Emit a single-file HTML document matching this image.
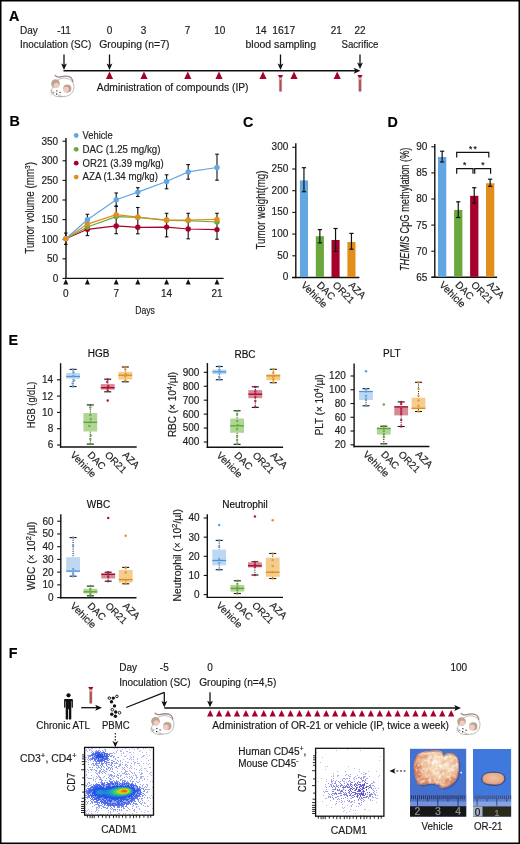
<!DOCTYPE html>
<html><head><meta charset="utf-8"><style>
html,body{margin:0;padding:0;background:#fff;}
svg{display:block;font-family:"Liberation Sans", sans-serif;will-change:transform;}
</style></head><body>
<svg width="520" height="844" viewBox="0 0 520 844">
<defs><symbol id="mouse" viewBox="0 0 24 24" overflow="visible">
<path d="M3.5,9 C5,4.6 9,3.0 13,2.9 C18.5,3.1 22.5,7 22.5,11.5 C22.5,17 18.5,21 13.5,21.3 L6.5,21.6 C3,21.4 0.4,19 0.1,16.3 C-0.1,13.5 1.5,11 3.5,9 Z" fill="#fff" stroke="#8f8f8f" stroke-width="0.6"/>
<path d="M3.7,0.5 C5,1.8 6.5,2.1 8,1.9 C10,1.5 12,1.0 13.8,1.05 C15.8,1.1 17,1.2 17.9,1.6 C19.2,2.2 20.2,3.4 20.6,4.3 C21,5.1 21.2,5.8 21.3,6.5" fill="none" stroke="#9e8882" stroke-width="1.35" stroke-linecap="round"/>
<path d="M17.9,1.8 C19.2,2.4 20.1,3.5 20.5,4.4" fill="none" stroke="#d2a8a0" stroke-width="0.5" stroke-dasharray="0.6,0.5"/>
<circle cx="4" cy="8.55" r="4.3" fill="#bba58d"/>
<circle cx="4.8" cy="10.3" r="2.7" fill="#efcbc1"/>
<circle cx="15.8" cy="13.5" r="4.1" fill="#bba58d"/>
<circle cx="14.5" cy="14.5" r="2.8" fill="#efcbc1"/>
<circle cx="5.4" cy="15.8" r="0.7" fill="#333"/>
<circle cx="8.6" cy="17.3" r="0.7" fill="#333"/>
<circle cx="5.2" cy="18.8" r="0.75" fill="#222"/>
<circle cx="2.4" cy="17.4" r="0.5" fill="#555"/>
<path d="M-1.5,15.2 L2.5,17 M-1.6,17.3 L2.5,17.7 M-1,19.4 L2.6,18.3 M7,19.6 L11.3,21.8 M8,19.4 L10.2,22.2 M6.5,19.8 L8.6,22.3" stroke="#8c8c8c" stroke-width="0.35" fill="none"/>
</symbol></defs>
<rect width="520" height="844" fill="#fff"/>
<rect x="0" y="0" width="520" height="844" fill="none" stroke="#000" stroke-width="3"/>
<text x="9" y="20.8" font-size="14.3" font-weight="bold" fill="#000" stroke="#000" stroke-width="0.17">A</text>
<text x="20" y="33.6" font-size="10" fill="#1a1a1a" stroke="#1a1a1a" stroke-width="0.17">Day</text>
<text x="64" y="33.6" font-size="10" text-anchor="middle" fill="#1a1a1a" stroke="#1a1a1a" stroke-width="0.17">-11</text>
<text x="109.5" y="33.6" font-size="10" text-anchor="middle" fill="#1a1a1a" stroke="#1a1a1a" stroke-width="0.17">0</text>
<text x="143.5" y="33.6" font-size="10" text-anchor="middle" fill="#1a1a1a" stroke="#1a1a1a" stroke-width="0.17">3</text>
<text x="187.5" y="33.6" font-size="10" text-anchor="middle" fill="#1a1a1a" stroke="#1a1a1a" stroke-width="0.17">7</text>
<text x="219.8" y="33.6" font-size="10" text-anchor="middle" fill="#1a1a1a" stroke="#1a1a1a" stroke-width="0.17">10</text>
<text x="261" y="33.6" font-size="10" text-anchor="middle" fill="#1a1a1a" stroke="#1a1a1a" stroke-width="0.17">14</text>
<text x="336.3" y="33.6" font-size="10" text-anchor="middle" fill="#1a1a1a" stroke="#1a1a1a" stroke-width="0.17">21</text>
<text x="360" y="33.6" font-size="10" text-anchor="middle" fill="#1a1a1a" stroke="#1a1a1a" stroke-width="0.17">22</text>
<text x="272.3" y="33.6" font-size="10" textLength="23" lengthAdjust="spacingAndGlyphs" fill="#1a1a1a" stroke="#1a1a1a" stroke-width="0.17">1617</text>
<text x="20" y="48.4" font-size="10" textLength="71.2" lengthAdjust="spacingAndGlyphs" fill="#1a1a1a" stroke="#1a1a1a" stroke-width="0.17">Inoculation (SC)</text>
<text x="99.2" y="48.4" font-size="10" textLength="70.2" lengthAdjust="spacingAndGlyphs" fill="#1a1a1a" stroke="#1a1a1a" stroke-width="0.17">Grouping (n=7)</text>
<text x="245.5" y="48.4" font-size="10" textLength="70.5" lengthAdjust="spacingAndGlyphs" fill="#1a1a1a" stroke="#1a1a1a" stroke-width="0.17">blood sampling</text>
<text x="341.5" y="48.4" font-size="10" textLength="37" lengthAdjust="spacingAndGlyphs" fill="#1a1a1a" stroke="#1a1a1a" stroke-width="0.17">Sacrifice</text>
<line x1="64" y1="54.5" x2="64" y2="67" stroke="#111" stroke-width="1.3"/>
<path d="M61.1,63.4 L64,70 L66.9,63.4 L64,64.9 Z" fill="#111"/>
<line x1="109.5" y1="54.5" x2="109.5" y2="67" stroke="#111" stroke-width="1.3"/>
<path d="M106.6,63.4 L109.5,70 L112.4,63.4 L109.5,64.9 Z" fill="#111"/>
<line x1="280.5" y1="54.5" x2="280.5" y2="67" stroke="#111" stroke-width="1.3"/>
<path d="M277.6,63.4 L280.5,70 L283.4,63.4 L280.5,64.9 Z" fill="#111"/>
<line x1="360" y1="54.5" x2="360" y2="66" stroke="#111" stroke-width="1.3"/>
<path d="M357.1,62.4 L360,69 L362.9,62.4 L360,63.9 Z" fill="#111"/>
<line x1="63.5" y1="70.7" x2="357.5" y2="70.7" stroke="#111" stroke-width="1.5"/>
<path d="M353.7,67.7 L360.5,70.7 L353.7,73.7 L355.2,70.7 Z" fill="#111"/>
<path d="M105.9,79.1 L109.5,71.6 L113.1,79.1 Z" fill="#a8002c"/>
<path d="M140.4,79.1 L144,71.6 L147.6,79.1 Z" fill="#a8002c"/>
<path d="M184.20000000000002,79.1 L187.8,71.6 L191.4,79.1 Z" fill="#a8002c"/>
<path d="M215.4,79.1 L219,71.6 L222.6,79.1 Z" fill="#a8002c"/>
<path d="M259.4,79.1 L263,71.6 L266.6,79.1 Z" fill="#a8002c"/>
<path d="M290.4,79.1 L294,71.6 L297.6,79.1 Z" fill="#a8002c"/>
<path d="M333.59999999999997,79.1 L337.2,71.6 L340.8,79.1 Z" fill="#a8002c"/>
<g transform="translate(280.5,75)"><rect x="-1.25" y="2.0" width="2.5" height="14.6" rx="0.6" fill="#b84a4c" stroke="#a9b0b0" stroke-width="0.45"/><rect x="-0.8" y="3.2" width="1.6" height="1.3" fill="#f6efef"/><path d="M-2.3,0 L2.3,0 L2.3,1.1 L1.1,2.2 L-1.1,2.2 L-2.3,1.1 Z" fill="#b0002a"/></g>
<g transform="translate(360,75)"><rect x="-1.25" y="2.0" width="2.5" height="14.6" rx="0.6" fill="#b84a4c" stroke="#a9b0b0" stroke-width="0.45"/><rect x="-0.8" y="3.2" width="1.6" height="1.3" fill="#f6efef"/><path d="M-2.3,0 L2.3,0 L2.3,1.1 L1.1,2.2 L-1.1,2.2 L-2.3,1.1 Z" fill="#b0002a"/></g>
<use href="#mouse" x="51.5" y="75.1" width="24.0" height="24.0"/>
<text x="96.8" y="91.4" font-size="10" textLength="151.7" lengthAdjust="spacingAndGlyphs" fill="#1a1a1a" stroke="#1a1a1a" stroke-width="0.17">Administration of compounds (IP)</text>
<text x="9.5" y="126.2" font-size="14.3" font-weight="bold" fill="#000" stroke="#000" stroke-width="0.17">B</text>
<line x1="66" y1="138" x2="66" y2="279.09999999999997" stroke="#111" stroke-width="1.4"/>
<line x1="65.3" y1="278.4" x2="223.6" y2="278.4" stroke="#111" stroke-width="1.4"/>
<line x1="62.5" y1="278.4" x2="66" y2="278.4" stroke="#111" stroke-width="1.1"/>
<text x="58.2" y="281.79999999999995" font-size="10" text-anchor="end" fill="#222" stroke="#222" stroke-width="0.17">0</text>
<line x1="62.5" y1="258.79999999999995" x2="66" y2="258.79999999999995" stroke="#111" stroke-width="1.1"/>
<text x="58.2" y="262.19999999999993" font-size="10" text-anchor="end" fill="#222" stroke="#222" stroke-width="0.17">50</text>
<line x1="62.5" y1="239.2" x2="66" y2="239.2" stroke="#111" stroke-width="1.1"/>
<text x="58.2" y="242.6" font-size="10" text-anchor="end" fill="#222" stroke="#222" stroke-width="0.17">100</text>
<line x1="62.5" y1="219.59999999999997" x2="66" y2="219.59999999999997" stroke="#111" stroke-width="1.1"/>
<text x="58.2" y="222.99999999999997" font-size="10" text-anchor="end" fill="#222" stroke="#222" stroke-width="0.17">150</text>
<line x1="62.5" y1="199.99999999999997" x2="66" y2="199.99999999999997" stroke="#111" stroke-width="1.1"/>
<text x="58.2" y="203.39999999999998" font-size="10" text-anchor="end" fill="#222" stroke="#222" stroke-width="0.17">200</text>
<line x1="62.5" y1="180.39999999999998" x2="66" y2="180.39999999999998" stroke="#111" stroke-width="1.1"/>
<text x="58.2" y="183.79999999999998" font-size="10" text-anchor="end" fill="#222" stroke="#222" stroke-width="0.17">250</text>
<line x1="62.5" y1="160.79999999999995" x2="66" y2="160.79999999999995" stroke="#111" stroke-width="1.1"/>
<text x="58.2" y="164.19999999999996" font-size="10" text-anchor="end" fill="#222" stroke="#222" stroke-width="0.17">300</text>
<line x1="62.5" y1="141.19999999999996" x2="66" y2="141.19999999999996" stroke="#111" stroke-width="1.1"/>
<text x="58.2" y="144.59999999999997" font-size="10" text-anchor="end" fill="#222" stroke="#222" stroke-width="0.17">350</text>
<path d="M63.3,284.4 L65.8,279.0 L68.3,284.4 Z" fill="#111"/>
<path d="M84.9,284.4 L87.4,279.0 L89.9,284.4 Z" fill="#111"/>
<path d="M113.69999999999999,284.4 L116.19999999999999,279.0 L118.69999999999999,284.4 Z" fill="#111"/>
<path d="M135.3,284.4 L137.8,279.0 L140.3,284.4 Z" fill="#111"/>
<path d="M164.1,284.4 L166.6,279.0 L169.1,284.4 Z" fill="#111"/>
<path d="M185.7,284.4 L188.2,279.0 L190.7,284.4 Z" fill="#111"/>
<path d="M214.5,284.4 L217.0,279.0 L219.5,284.4 Z" fill="#111"/>
<text x="65.8" y="297.2" font-size="10" text-anchor="middle" fill="#222" stroke="#222" stroke-width="0.17">0</text>
<text x="116.19999999999999" y="297.2" font-size="10" text-anchor="middle" fill="#222" stroke="#222" stroke-width="0.17">7</text>
<text x="166.6" y="297.2" font-size="10" text-anchor="middle" fill="#222" stroke="#222" stroke-width="0.17">14</text>
<text x="217.0" y="297.2" font-size="10" text-anchor="middle" fill="#222" stroke="#222" stroke-width="0.17">21</text>
<text x="145" y="313.8" font-size="11.7" text-anchor="middle" textLength="19.6" lengthAdjust="spacingAndGlyphs" fill="#222" stroke="#222" stroke-width="0.17">Days</text>
<text transform="translate(34.3,207.9) rotate(-90)" font-size="12.3" text-anchor="middle" textLength="91.7" lengthAdjust="spacingAndGlyphs" fill="#222" stroke="#222" stroke-width="0.17">Tumor volume (mm<tspan font-size="8" dy="-4.5">3</tspan><tspan dy="4.5">)</tspan></text>
<circle cx="76.2" cy="135.5" r="2.4" fill="#62a6e2"/>
<text x="82.6" y="138.9" font-size="10" textLength="30" lengthAdjust="spacingAndGlyphs" fill="#222" stroke="#222" stroke-width="0.17">Vehicle</text>
<circle cx="76.2" cy="149.35" r="2.4" fill="#6aa83e"/>
<text x="82.6" y="152.75" font-size="10" textLength="77.8" lengthAdjust="spacingAndGlyphs" fill="#222" stroke="#222" stroke-width="0.17">DAC (1.25 mg/kg)</text>
<circle cx="76.2" cy="163.2" r="2.4" fill="#a8002c"/>
<text x="82.6" y="166.6" font-size="10" textLength="81.2" lengthAdjust="spacingAndGlyphs" fill="#222" stroke="#222" stroke-width="0.17">OR21 (3.39 mg/kg)</text>
<circle cx="76.2" cy="177.05" r="2.4" fill="#e18e1a"/>
<text x="82.6" y="180.45000000000002" font-size="10" textLength="75.4" lengthAdjust="spacingAndGlyphs" fill="#222" stroke="#222" stroke-width="0.17">AZA (1.34 mg/kg)</text>
<line x1="65.8" y1="233.1" x2="65.8" y2="244.4" stroke="#111" stroke-width="1.1"/>
<line x1="64.0" y1="233.1" x2="67.6" y2="233.1" stroke="#111" stroke-width="1.1"/>
<line x1="64.0" y1="244.4" x2="67.6" y2="244.4" stroke="#111" stroke-width="1.1"/>
<line x1="87.4" y1="214.3" x2="87.4" y2="224.5" stroke="#111" stroke-width="1.1"/>
<line x1="85.60000000000001" y1="214.3" x2="89.2" y2="214.3" stroke="#111" stroke-width="1.1"/>
<line x1="85.60000000000001" y1="224.5" x2="89.2" y2="224.5" stroke="#111" stroke-width="1.1"/>
<line x1="87.4" y1="219.5" x2="87.4" y2="235.6" stroke="#111" stroke-width="1.1"/>
<line x1="85.60000000000001" y1="219.5" x2="89.2" y2="219.5" stroke="#111" stroke-width="1.1"/>
<line x1="85.60000000000001" y1="235.6" x2="89.2" y2="235.6" stroke="#111" stroke-width="1.1"/>
<line x1="116.19999999999999" y1="193" x2="116.19999999999999" y2="206" stroke="#111" stroke-width="1.1"/>
<line x1="114.39999999999999" y1="193" x2="117.99999999999999" y2="193" stroke="#111" stroke-width="1.1"/>
<line x1="114.39999999999999" y1="206" x2="117.99999999999999" y2="206" stroke="#111" stroke-width="1.1"/>
<line x1="116.19999999999999" y1="206.5" x2="116.19999999999999" y2="233.7" stroke="#111" stroke-width="1.1"/>
<line x1="114.39999999999999" y1="206.5" x2="117.99999999999999" y2="206.5" stroke="#111" stroke-width="1.1"/>
<line x1="114.39999999999999" y1="233.7" x2="117.99999999999999" y2="233.7" stroke="#111" stroke-width="1.1"/>
<line x1="137.8" y1="187.7" x2="137.8" y2="196.5" stroke="#111" stroke-width="1.1"/>
<line x1="136.0" y1="187.7" x2="139.60000000000002" y2="187.7" stroke="#111" stroke-width="1.1"/>
<line x1="136.0" y1="196.5" x2="139.60000000000002" y2="196.5" stroke="#111" stroke-width="1.1"/>
<line x1="137.8" y1="207.5" x2="137.8" y2="233.8" stroke="#111" stroke-width="1.1"/>
<line x1="136.0" y1="207.5" x2="139.60000000000002" y2="207.5" stroke="#111" stroke-width="1.1"/>
<line x1="136.0" y1="233.8" x2="139.60000000000002" y2="233.8" stroke="#111" stroke-width="1.1"/>
<line x1="166.6" y1="174.8" x2="166.6" y2="188.8" stroke="#111" stroke-width="1.1"/>
<line x1="164.79999999999998" y1="174.8" x2="168.4" y2="174.8" stroke="#111" stroke-width="1.1"/>
<line x1="164.79999999999998" y1="188.8" x2="168.4" y2="188.8" stroke="#111" stroke-width="1.1"/>
<line x1="166.6" y1="213.3" x2="166.6" y2="236.9" stroke="#111" stroke-width="1.1"/>
<line x1="164.79999999999998" y1="213.3" x2="168.4" y2="213.3" stroke="#111" stroke-width="1.1"/>
<line x1="164.79999999999998" y1="236.9" x2="168.4" y2="236.9" stroke="#111" stroke-width="1.1"/>
<line x1="188.2" y1="164.6" x2="188.2" y2="179.2" stroke="#111" stroke-width="1.1"/>
<line x1="186.39999999999998" y1="164.6" x2="190.0" y2="164.6" stroke="#111" stroke-width="1.1"/>
<line x1="186.39999999999998" y1="179.2" x2="190.0" y2="179.2" stroke="#111" stroke-width="1.1"/>
<line x1="188.2" y1="213.3" x2="188.2" y2="238.8" stroke="#111" stroke-width="1.1"/>
<line x1="186.39999999999998" y1="213.3" x2="190.0" y2="213.3" stroke="#111" stroke-width="1.1"/>
<line x1="186.39999999999998" y1="238.8" x2="190.0" y2="238.8" stroke="#111" stroke-width="1.1"/>
<line x1="217.0" y1="154.2" x2="217.0" y2="180.2" stroke="#111" stroke-width="1.1"/>
<line x1="215.2" y1="154.2" x2="218.8" y2="154.2" stroke="#111" stroke-width="1.1"/>
<line x1="215.2" y1="180.2" x2="218.8" y2="180.2" stroke="#111" stroke-width="1.1"/>
<line x1="217.0" y1="213.3" x2="217.0" y2="239.2" stroke="#111" stroke-width="1.1"/>
<line x1="215.2" y1="213.3" x2="218.8" y2="213.3" stroke="#111" stroke-width="1.1"/>
<line x1="215.2" y1="239.2" x2="218.8" y2="239.2" stroke="#111" stroke-width="1.1"/>
<polyline points="65.8,238.8 87.4,229.3 116.19999999999999,225.9 137.8,227.3 166.6,227.1 188.2,229.0 217.0,229.6" fill="none" stroke="#a8002c" stroke-width="1.2"/>
<polyline points="65.8,238.8 87.4,227.0 116.19999999999999,216.6 137.8,217.4 166.6,220.3 188.2,220.6 217.0,222.0" fill="none" stroke="#6aa83e" stroke-width="1.2"/>
<polyline points="65.8,238.8 87.4,224.1 116.19999999999999,214.7 137.8,217.1 166.6,220.0 188.2,220.0 217.0,219.4" fill="none" stroke="#e18e1a" stroke-width="1.2"/>
<polyline points="65.8,238.8 87.4,219.8 116.19999999999999,199.8 137.8,192.1 166.6,181.5 188.2,171.9 217.0,167.5" fill="none" stroke="#62a6e2" stroke-width="1.2"/>
<circle cx="87.4" cy="229.3" r="2.7" fill="#a8002c"/>
<circle cx="116.19999999999999" cy="225.9" r="2.7" fill="#a8002c"/>
<circle cx="137.8" cy="227.3" r="2.7" fill="#a8002c"/>
<circle cx="166.6" cy="227.1" r="2.7" fill="#a8002c"/>
<circle cx="188.2" cy="229.0" r="2.7" fill="#a8002c"/>
<circle cx="217.0" cy="229.6" r="2.7" fill="#a8002c"/>
<circle cx="87.4" cy="227.0" r="2.7" fill="#6aa83e"/>
<circle cx="116.19999999999999" cy="216.6" r="2.7" fill="#6aa83e"/>
<circle cx="137.8" cy="217.4" r="2.7" fill="#6aa83e"/>
<circle cx="166.6" cy="220.3" r="2.7" fill="#6aa83e"/>
<circle cx="188.2" cy="220.6" r="2.7" fill="#6aa83e"/>
<circle cx="217.0" cy="222.0" r="2.7" fill="#6aa83e"/>
<circle cx="87.4" cy="224.1" r="2.7" fill="#e18e1a"/>
<circle cx="116.19999999999999" cy="214.7" r="2.7" fill="#e18e1a"/>
<circle cx="137.8" cy="217.1" r="2.7" fill="#e18e1a"/>
<circle cx="166.6" cy="220.0" r="2.7" fill="#e18e1a"/>
<circle cx="188.2" cy="220.0" r="2.7" fill="#e18e1a"/>
<circle cx="217.0" cy="219.4" r="2.7" fill="#e18e1a"/>
<circle cx="65.8" cy="238.8" r="2.7" fill="#62a6e2"/>
<circle cx="87.4" cy="219.8" r="2.7" fill="#62a6e2"/>
<circle cx="116.19999999999999" cy="199.8" r="2.7" fill="#62a6e2"/>
<circle cx="137.8" cy="192.1" r="2.7" fill="#62a6e2"/>
<circle cx="166.6" cy="181.5" r="2.7" fill="#62a6e2"/>
<circle cx="188.2" cy="171.9" r="2.7" fill="#62a6e2"/>
<circle cx="217.0" cy="167.5" r="2.7" fill="#62a6e2"/>
<circle cx="65.8" cy="238.8" r="2.7" fill="#e18e1a"/>
<text x="243" y="126.6" font-size="14.3" font-weight="bold" fill="#000" stroke="#000" stroke-width="0.17">C</text>
<line x1="295.8" y1="143.2" x2="295.8" y2="278.2" stroke="#111" stroke-width="1.4"/>
<line x1="292" y1="277.5" x2="359.4" y2="277.5" stroke="#111" stroke-width="1.4"/>
<line x1="292.3" y1="277.5" x2="295.8" y2="277.5" stroke="#111" stroke-width="1.1"/>
<text x="288.3" y="280.3" font-size="10" text-anchor="end" fill="#222" stroke="#222" stroke-width="0.17">0</text>
<line x1="292.3" y1="255.8" x2="295.8" y2="255.8" stroke="#111" stroke-width="1.1"/>
<text x="288.3" y="258.6" font-size="10" text-anchor="end" fill="#222" stroke="#222" stroke-width="0.17">50</text>
<line x1="292.3" y1="234.1" x2="295.8" y2="234.1" stroke="#111" stroke-width="1.1"/>
<text x="288.3" y="236.9" font-size="10" text-anchor="end" fill="#222" stroke="#222" stroke-width="0.17">100</text>
<line x1="292.3" y1="212.4" x2="295.8" y2="212.4" stroke="#111" stroke-width="1.1"/>
<text x="288.3" y="215.20000000000002" font-size="10" text-anchor="end" fill="#222" stroke="#222" stroke-width="0.17">150</text>
<line x1="292.3" y1="190.7" x2="295.8" y2="190.7" stroke="#111" stroke-width="1.1"/>
<text x="288.3" y="193.5" font-size="10" text-anchor="end" fill="#222" stroke="#222" stroke-width="0.17">200</text>
<line x1="292.3" y1="169.0" x2="295.8" y2="169.0" stroke="#111" stroke-width="1.1"/>
<text x="288.3" y="171.8" font-size="10" text-anchor="end" fill="#222" stroke="#222" stroke-width="0.17">250</text>
<line x1="292.3" y1="147.3" x2="295.8" y2="147.3" stroke="#111" stroke-width="1.1"/>
<text x="288.3" y="150.10000000000002" font-size="10" text-anchor="end" fill="#222" stroke="#222" stroke-width="0.17">300</text>
<rect x="299.9" y="180.4" width="8.1" height="96.6" fill="#62a6e2"/>
<line x1="303.95" y1="167.7" x2="303.95" y2="191.7" stroke="#111" stroke-width="1.2"/>
<line x1="301.84999999999997" y1="167.7" x2="306.05" y2="167.7" stroke="#111" stroke-width="1.2"/>
<line x1="301.84999999999997" y1="191.7" x2="306.05" y2="191.7" stroke="#111" stroke-width="1.2"/>
<rect x="315.8" y="236.2" width="8.1" height="40.80000000000001" fill="#6aa83e"/>
<line x1="319.85" y1="229.6" x2="319.85" y2="242.9" stroke="#111" stroke-width="1.2"/>
<line x1="317.75" y1="229.6" x2="321.95000000000005" y2="229.6" stroke="#111" stroke-width="1.2"/>
<line x1="317.75" y1="242.9" x2="321.95000000000005" y2="242.9" stroke="#111" stroke-width="1.2"/>
<rect x="331.5" y="240" width="8.1" height="37.0" fill="#a8002c"/>
<line x1="335.55" y1="228.5" x2="335.55" y2="251.5" stroke="#111" stroke-width="1.2"/>
<line x1="333.45" y1="228.5" x2="337.65000000000003" y2="228.5" stroke="#111" stroke-width="1.2"/>
<line x1="333.45" y1="251.5" x2="337.65000000000003" y2="251.5" stroke="#111" stroke-width="1.2"/>
<rect x="347.4" y="242" width="8.1" height="35.0" fill="#e18e1a"/>
<line x1="351.45" y1="233.4" x2="351.45" y2="249.2" stroke="#111" stroke-width="1.2"/>
<line x1="349.34999999999997" y1="233.4" x2="353.55" y2="233.4" stroke="#111" stroke-width="1.2"/>
<line x1="349.34999999999997" y1="249.2" x2="353.55" y2="249.2" stroke="#111" stroke-width="1.2"/>
<text transform="translate(264.9,210) rotate(-90)" font-size="12.3" text-anchor="middle" textLength="79" lengthAdjust="spacingAndGlyphs" fill="#222" stroke="#222" stroke-width="0.17">Tumor weight(mg)</text>
<text transform="translate(300.4,285.7) rotate(45)" font-size="10" fill="#222" stroke="#222" stroke-width="0.17">Vehicle</text>
<text transform="translate(316.2,285.7) rotate(45)" font-size="10" fill="#222" stroke="#222" stroke-width="0.17">DAC</text>
<text transform="translate(332.0,285.7) rotate(45)" font-size="10" fill="#222" stroke="#222" stroke-width="0.17">OR21</text>
<text transform="translate(347.9,285.7) rotate(45)" font-size="10" fill="#222" stroke="#222" stroke-width="0.17">AZA</text>
<text x="387.5" y="126.5" font-size="14.3" font-weight="bold" fill="#000" stroke="#000" stroke-width="0.17">D</text>
<line x1="434.8" y1="144" x2="434.8" y2="278.0" stroke="#111" stroke-width="1.4"/>
<line x1="431.5" y1="277.3" x2="497.1" y2="277.3" stroke="#111" stroke-width="1.4"/>
<line x1="431.3" y1="277.3" x2="434.8" y2="277.3" stroke="#111" stroke-width="1.1"/>
<text x="427.3" y="280.7" font-size="10" text-anchor="end" fill="#222" stroke="#222" stroke-width="0.17">65</text>
<line x1="431.3" y1="251.20000000000002" x2="434.8" y2="251.20000000000002" stroke="#111" stroke-width="1.1"/>
<text x="427.3" y="254.60000000000002" font-size="10" text-anchor="end" fill="#222" stroke="#222" stroke-width="0.17">70</text>
<line x1="431.3" y1="225.10000000000002" x2="434.8" y2="225.10000000000002" stroke="#111" stroke-width="1.1"/>
<text x="427.3" y="228.50000000000003" font-size="10" text-anchor="end" fill="#222" stroke="#222" stroke-width="0.17">75</text>
<line x1="431.3" y1="199.0" x2="434.8" y2="199.0" stroke="#111" stroke-width="1.1"/>
<text x="427.3" y="202.4" font-size="10" text-anchor="end" fill="#222" stroke="#222" stroke-width="0.17">80</text>
<line x1="431.3" y1="172.90000000000003" x2="434.8" y2="172.90000000000003" stroke="#111" stroke-width="1.1"/>
<text x="427.3" y="176.30000000000004" font-size="10" text-anchor="end" fill="#222" stroke="#222" stroke-width="0.17">85</text>
<line x1="431.3" y1="146.8" x2="434.8" y2="146.8" stroke="#111" stroke-width="1.1"/>
<text x="427.3" y="150.20000000000002" font-size="10" text-anchor="end" fill="#222" stroke="#222" stroke-width="0.17">90</text>
<rect x="438" y="157" width="8.3" height="119.80000000000001" fill="#62a6e2"/>
<line x1="442.15" y1="151.2" x2="442.15" y2="162" stroke="#111" stroke-width="1.2"/>
<line x1="440.04999999999995" y1="151.2" x2="444.25" y2="151.2" stroke="#111" stroke-width="1.2"/>
<line x1="440.04999999999995" y1="162" x2="444.25" y2="162" stroke="#111" stroke-width="1.2"/>
<rect x="454.1" y="210" width="8.3" height="66.80000000000001" fill="#6aa83e"/>
<line x1="458.25" y1="201.8" x2="458.25" y2="217.5" stroke="#111" stroke-width="1.2"/>
<line x1="456.15" y1="201.8" x2="460.35" y2="201.8" stroke="#111" stroke-width="1.2"/>
<line x1="456.15" y1="217.5" x2="460.35" y2="217.5" stroke="#111" stroke-width="1.2"/>
<rect x="470.1" y="195.8" width="8.3" height="81.0" fill="#a8002c"/>
<line x1="474.25" y1="187.7" x2="474.25" y2="203.2" stroke="#111" stroke-width="1.2"/>
<line x1="472.15" y1="187.7" x2="476.35" y2="187.7" stroke="#111" stroke-width="1.2"/>
<line x1="472.15" y1="203.2" x2="476.35" y2="203.2" stroke="#111" stroke-width="1.2"/>
<rect x="486" y="183.3" width="8.3" height="93.5" fill="#e18e1a"/>
<line x1="490.15" y1="179.2" x2="490.15" y2="186.3" stroke="#111" stroke-width="1.2"/>
<line x1="488.04999999999995" y1="179.2" x2="492.25" y2="179.2" stroke="#111" stroke-width="1.2"/>
<line x1="488.04999999999995" y1="186.3" x2="492.25" y2="186.3" stroke="#111" stroke-width="1.2"/>
<path d="M456.7,157.6 L456.7,152.3 L488.8,152.3 L488.8,157.6" fill="none" stroke="#111" stroke-width="1.2"/>
<path d="M456.7,173.7 L456.7,168.6 L473.0,168.6 L473.0,173.7" fill="none" stroke="#111" stroke-width="1.2"/>
<path d="M474.7,173.7 L474.7,168.6 L490.6,168.6 L490.6,173.7" fill="none" stroke="#111" stroke-width="1.2"/>
<text x="470.7" y="151.9" font-size="8.5" text-anchor="middle" fill="#111" stroke="#111" stroke-width="0.17">*</text>
<text x="475.2" y="151.9" font-size="8.5" text-anchor="middle" fill="#111" stroke="#111" stroke-width="0.17">*</text>
<text x="464.6" y="167.8" font-size="8.5" text-anchor="middle" fill="#111" stroke="#111" stroke-width="0.17">*</text>
<text x="482.9" y="167.8" font-size="8.5" text-anchor="middle" fill="#111" stroke="#111" stroke-width="0.17">*</text>
<text transform="translate(409.3,209.3) rotate(-90)" font-size="13" text-anchor="middle" textLength="123.5" lengthAdjust="spacingAndGlyphs" fill="#222" stroke="#222" stroke-width="0.17"><tspan font-style="italic">THEMIS</tspan> CpG methylation (%)</text>
<text transform="translate(438.7,285.5) rotate(45)" font-size="10" fill="#222" stroke="#222" stroke-width="0.17">Vehicle</text>
<text transform="translate(454.7,285.5) rotate(45)" font-size="10" fill="#222" stroke="#222" stroke-width="0.17">DAC</text>
<text transform="translate(470.6,285.5) rotate(45)" font-size="10" fill="#222" stroke="#222" stroke-width="0.17">OR21</text>
<text transform="translate(486.5,285.5) rotate(45)" font-size="10" fill="#222" stroke="#222" stroke-width="0.17">AZA</text>
<text x="8.6" y="344.7" font-size="14.3" font-weight="bold" fill="#000" stroke="#000" stroke-width="0.17">E</text>
<text x="98.7" y="357.1" font-size="10" text-anchor="middle" fill="#111" stroke="#111" stroke-width="0.17">HGB</text>
<line x1="60.6" y1="363.2" x2="60.6" y2="447.7" stroke="#111" stroke-width="1.4"/>
<line x1="59.9" y1="447" x2="136.7" y2="447" stroke="#111" stroke-width="1.4"/>
<line x1="57.0" y1="445.0" x2="60.6" y2="445.0" stroke="#111" stroke-width="1.1"/>
<text x="53.2" y="448.4" font-size="10" text-anchor="end" fill="#222" stroke="#222" stroke-width="0.17">6</text>
<line x1="57.0" y1="428.7" x2="60.6" y2="428.7" stroke="#111" stroke-width="1.1"/>
<text x="53.2" y="432.09999999999997" font-size="10" text-anchor="end" fill="#222" stroke="#222" stroke-width="0.17">8</text>
<line x1="57.0" y1="412.4" x2="60.6" y2="412.4" stroke="#111" stroke-width="1.1"/>
<text x="53.2" y="415.79999999999995" font-size="10" text-anchor="end" fill="#222" stroke="#222" stroke-width="0.17">10</text>
<line x1="57.0" y1="396.1" x2="60.6" y2="396.1" stroke="#111" stroke-width="1.1"/>
<text x="53.2" y="399.5" font-size="10" text-anchor="end" fill="#222" stroke="#222" stroke-width="0.17">12</text>
<line x1="57.0" y1="379.8" x2="60.6" y2="379.8" stroke="#111" stroke-width="1.1"/>
<text x="53.2" y="383.2" font-size="10" text-anchor="end" fill="#222" stroke="#222" stroke-width="0.17">14</text>
<text transform="translate(34.6,404.9) rotate(-90)" font-size="10" text-anchor="middle" textLength="46.7" lengthAdjust="spacingAndGlyphs" fill="#222" stroke="#222" stroke-width="0.17">HGB (g/dL)</text>
<line x1="73.1" y1="369.4" x2="73.1" y2="372.9" stroke="#111" stroke-width="1" stroke-dasharray="1,1.2"/>
<line x1="73.1" y1="378.7" x2="73.1" y2="386.5" stroke="#111" stroke-width="1" stroke-dasharray="1,1.2"/>
<line x1="69.6" y1="369.4" x2="76.6" y2="369.4" stroke="#111" stroke-width="1.1"/>
<line x1="69.6" y1="386.5" x2="76.6" y2="386.5" stroke="#111" stroke-width="1.1"/>
<rect x="66.19999999999999" y="372.9" width="13.8" height="5.800000000000011" fill="#bed8f2"/>
<line x1="66.19999999999999" y1="376.5" x2="80.0" y2="376.5" stroke="#4d94dc" stroke-width="1.3"/>
<circle cx="73.1" cy="369.4" r="1.25" fill="#5aa2e2" fill-opacity="0.85"/>
<circle cx="73.6" cy="372.5" r="1.25" fill="#5aa2e2" fill-opacity="0.85"/>
<circle cx="73.39999999999999" cy="376" r="1.25" fill="#5aa2e2" fill-opacity="0.85"/>
<circle cx="74.1" cy="380.5" r="1.25" fill="#5aa2e2" fill-opacity="0.85"/>
<circle cx="72.6" cy="383.5" r="1.25" fill="#5aa2e2" fill-opacity="0.85"/>
<circle cx="73.1" cy="386.5" r="1.25" fill="#5aa2e2" fill-opacity="0.85"/>
<line x1="90.3" y1="404.9" x2="90.3" y2="413" stroke="#111" stroke-width="1" stroke-dasharray="1,1.2"/>
<line x1="90.3" y1="431.5" x2="90.3" y2="444.1" stroke="#111" stroke-width="1" stroke-dasharray="1,1.2"/>
<line x1="86.8" y1="404.9" x2="93.8" y2="404.9" stroke="#111" stroke-width="1.1"/>
<line x1="86.8" y1="444.1" x2="93.8" y2="444.1" stroke="#111" stroke-width="1.1"/>
<rect x="83.39999999999999" y="413" width="13.8" height="18.5" fill="#b0d696"/>
<line x1="83.39999999999999" y1="422.3" x2="97.2" y2="422.3" stroke="#5ea234" stroke-width="1.3"/>
<circle cx="91.8" cy="405" r="1.25" fill="#64a83a" fill-opacity="0.85"/>
<circle cx="90.3" cy="407.5" r="1.25" fill="#64a83a" fill-opacity="0.85"/>
<circle cx="90.3" cy="415" r="1.25" fill="#64a83a" fill-opacity="0.85"/>
<circle cx="90.8" cy="419" r="1.25" fill="#64a83a" fill-opacity="0.85"/>
<circle cx="90.3" cy="422.3" r="1.25" fill="#64a83a" fill-opacity="0.85"/>
<circle cx="89.3" cy="426" r="1.25" fill="#64a83a" fill-opacity="0.85"/>
<circle cx="90.8" cy="435.5" r="1.25" fill="#64a83a" fill-opacity="0.85"/>
<circle cx="90.3" cy="439" r="1.25" fill="#64a83a" fill-opacity="0.85"/>
<circle cx="90.3" cy="444" r="1.25" fill="#64a83a" fill-opacity="0.85"/>
<line x1="107.7" y1="379.2" x2="107.7" y2="384.1" stroke="#111" stroke-width="1" stroke-dasharray="1,1.2"/>
<line x1="107.7" y1="389.6" x2="107.7" y2="391.8" stroke="#111" stroke-width="1" stroke-dasharray="1,1.2"/>
<line x1="104.2" y1="379.2" x2="111.2" y2="379.2" stroke="#111" stroke-width="1.1"/>
<line x1="104.2" y1="391.8" x2="111.2" y2="391.8" stroke="#111" stroke-width="1.1"/>
<rect x="100.8" y="384.1" width="13.8" height="5.5" fill="#d68a94"/>
<line x1="100.8" y1="387.7" x2="114.60000000000001" y2="387.7" stroke="#a8002c" stroke-width="1.3"/>
<circle cx="107.7" cy="379.5" r="1.25" fill="#b3123c" fill-opacity="0.85"/>
<circle cx="107.2" cy="382" r="1.25" fill="#b3123c" fill-opacity="0.85"/>
<circle cx="108.2" cy="386" r="1.25" fill="#b3123c" fill-opacity="0.85"/>
<circle cx="107.7" cy="388" r="1.25" fill="#b3123c" fill-opacity="0.85"/>
<circle cx="107.7" cy="390.5" r="1.25" fill="#b3123c" fill-opacity="0.85"/>
<circle cx="107.7" cy="400.4" r="1.25" fill="#b3123c"/>
<line x1="125.3" y1="367.0" x2="125.3" y2="371.9" stroke="#111" stroke-width="1" stroke-dasharray="1,1.2"/>
<line x1="125.3" y1="379.5" x2="125.3" y2="381.8" stroke="#111" stroke-width="1" stroke-dasharray="1,1.2"/>
<line x1="121.8" y1="367.0" x2="128.8" y2="367.0" stroke="#111" stroke-width="1.1"/>
<line x1="121.8" y1="381.8" x2="128.8" y2="381.8" stroke="#111" stroke-width="1.1"/>
<rect x="118.39999999999999" y="371.9" width="13.8" height="7.600000000000023" fill="#f4cc8e"/>
<line x1="118.39999999999999" y1="375.2" x2="132.2" y2="375.2" stroke="#de8a14" stroke-width="1.3"/>
<circle cx="125.3" cy="367" r="1.25" fill="#e39420" fill-opacity="0.85"/>
<circle cx="125.3" cy="369.2" r="1.25" fill="#e39420" fill-opacity="0.85"/>
<circle cx="125.8" cy="374" r="1.25" fill="#e39420" fill-opacity="0.85"/>
<circle cx="125.3" cy="376.5" r="1.25" fill="#e39420" fill-opacity="0.85"/>
<circle cx="125.3" cy="380.5" r="1.25" fill="#e39420" fill-opacity="0.85"/>
<text transform="translate(69.7,455.6) rotate(45)" font-size="9.9" fill="#222" stroke="#222" stroke-width="0.17">Vehicle</text>
<text transform="translate(86.9,455.6) rotate(45)" font-size="9.9" fill="#222" stroke="#222" stroke-width="0.17">DAC</text>
<text transform="translate(104.3,455.6) rotate(45)" font-size="9.9" fill="#222" stroke="#222" stroke-width="0.17">OR21</text>
<text transform="translate(121.9,455.6) rotate(45)" font-size="9.9" fill="#222" stroke="#222" stroke-width="0.17">AZA</text>
<text x="245" y="357.7" font-size="10" text-anchor="middle" fill="#111" stroke="#111" stroke-width="0.17">RBC</text>
<line x1="207.4" y1="363.1" x2="207.4" y2="448.0" stroke="#111" stroke-width="1.4"/>
<line x1="206.70000000000002" y1="447.3" x2="283.1" y2="447.3" stroke="#111" stroke-width="1.4"/>
<line x1="203.8" y1="442.0" x2="207.4" y2="442.0" stroke="#111" stroke-width="1.1"/>
<text x="199.4" y="445.4" font-size="10" text-anchor="end" fill="#222" stroke="#222" stroke-width="0.17">400</text>
<line x1="203.8" y1="428.06" x2="207.4" y2="428.06" stroke="#111" stroke-width="1.1"/>
<text x="199.4" y="431.46" font-size="10" text-anchor="end" fill="#222" stroke="#222" stroke-width="0.17">500</text>
<line x1="203.8" y1="414.12" x2="207.4" y2="414.12" stroke="#111" stroke-width="1.1"/>
<text x="199.4" y="417.52" font-size="10" text-anchor="end" fill="#222" stroke="#222" stroke-width="0.17">600</text>
<line x1="203.8" y1="400.18" x2="207.4" y2="400.18" stroke="#111" stroke-width="1.1"/>
<text x="199.4" y="403.58" font-size="10" text-anchor="end" fill="#222" stroke="#222" stroke-width="0.17">700</text>
<line x1="203.8" y1="386.24" x2="207.4" y2="386.24" stroke="#111" stroke-width="1.1"/>
<text x="199.4" y="389.64" font-size="10" text-anchor="end" fill="#222" stroke="#222" stroke-width="0.17">800</text>
<line x1="203.8" y1="372.3" x2="207.4" y2="372.3" stroke="#111" stroke-width="1.1"/>
<text x="199.4" y="375.7" font-size="10" text-anchor="end" fill="#222" stroke="#222" stroke-width="0.17">900</text>
<text transform="translate(175.5,404.5) rotate(-90)" font-size="10" text-anchor="middle" textLength="65.2" lengthAdjust="spacingAndGlyphs" fill="#222" stroke="#222" stroke-width="0.17">RBC (× 10<tspan font-size="7.5" dy="-3.6">4</tspan><tspan dy="3.6">/µl)</tspan></text>
<line x1="219.3" y1="366.5" x2="219.3" y2="369.5" stroke="#111" stroke-width="1" stroke-dasharray="1,1.2"/>
<line x1="219.3" y1="374.2" x2="219.3" y2="379.7" stroke="#111" stroke-width="1" stroke-dasharray="1,1.2"/>
<line x1="215.8" y1="366.5" x2="222.8" y2="366.5" stroke="#111" stroke-width="1.1"/>
<line x1="215.8" y1="379.7" x2="222.8" y2="379.7" stroke="#111" stroke-width="1.1"/>
<rect x="212.4" y="369.5" width="13.8" height="4.699999999999989" fill="#bed8f2"/>
<line x1="212.4" y1="371.8" x2="226.20000000000002" y2="371.8" stroke="#4d94dc" stroke-width="1.3"/>
<circle cx="219.3" cy="366.5" r="1.25" fill="#5aa2e2" fill-opacity="0.85"/>
<circle cx="219.3" cy="370" r="1.25" fill="#5aa2e2" fill-opacity="0.85"/>
<circle cx="219.8" cy="372.5" r="1.25" fill="#5aa2e2" fill-opacity="0.85"/>
<circle cx="219.3" cy="377" r="1.25" fill="#5aa2e2" fill-opacity="0.85"/>
<circle cx="219.3" cy="379.5" r="1.25" fill="#5aa2e2" fill-opacity="0.85"/>
<line x1="237.1" y1="410.8" x2="237.1" y2="418.5" stroke="#111" stroke-width="1" stroke-dasharray="1,1.2"/>
<line x1="237.1" y1="432.8" x2="237.1" y2="444.3" stroke="#111" stroke-width="1" stroke-dasharray="1,1.2"/>
<line x1="233.6" y1="410.8" x2="240.6" y2="410.8" stroke="#111" stroke-width="1.1"/>
<line x1="233.6" y1="444.3" x2="240.6" y2="444.3" stroke="#111" stroke-width="1.1"/>
<rect x="230.2" y="418.5" width="13.8" height="14.300000000000011" fill="#b0d696"/>
<line x1="230.2" y1="425.8" x2="244.0" y2="425.8" stroke="#5ea234" stroke-width="1.3"/>
<circle cx="237.1" cy="411" r="1.25" fill="#64a83a" fill-opacity="0.85"/>
<circle cx="237.1" cy="414" r="1.25" fill="#64a83a" fill-opacity="0.85"/>
<circle cx="237.1" cy="421" r="1.25" fill="#64a83a" fill-opacity="0.85"/>
<circle cx="237.6" cy="425" r="1.25" fill="#64a83a" fill-opacity="0.85"/>
<circle cx="237.1" cy="429" r="1.25" fill="#64a83a" fill-opacity="0.85"/>
<circle cx="237.1" cy="436" r="1.25" fill="#64a83a" fill-opacity="0.85"/>
<circle cx="237.1" cy="440" r="1.25" fill="#64a83a" fill-opacity="0.85"/>
<circle cx="237.1" cy="444" r="1.25" fill="#64a83a" fill-opacity="0.85"/>
<line x1="255.3" y1="386.8" x2="255.3" y2="390.1" stroke="#111" stroke-width="1" stroke-dasharray="1,1.2"/>
<line x1="255.3" y1="398.2" x2="255.3" y2="407.4" stroke="#111" stroke-width="1" stroke-dasharray="1,1.2"/>
<line x1="251.8" y1="386.8" x2="258.8" y2="386.8" stroke="#111" stroke-width="1.1"/>
<line x1="251.8" y1="407.4" x2="258.8" y2="407.4" stroke="#111" stroke-width="1.1"/>
<rect x="248.4" y="390.1" width="13.8" height="8.099999999999966" fill="#d68a94"/>
<line x1="248.4" y1="394.2" x2="262.2" y2="394.2" stroke="#a8002c" stroke-width="1.3"/>
<circle cx="255.3" cy="387" r="1.25" fill="#b3123c" fill-opacity="0.85"/>
<circle cx="255.3" cy="391.5" r="1.25" fill="#b3123c" fill-opacity="0.85"/>
<circle cx="255.3" cy="394" r="1.25" fill="#b3123c" fill-opacity="0.85"/>
<circle cx="255.3" cy="397" r="1.25" fill="#b3123c" fill-opacity="0.85"/>
<circle cx="255.3" cy="401" r="1.25" fill="#b3123c" fill-opacity="0.85"/>
<circle cx="255.3" cy="407" r="1.25" fill="#b3123c" fill-opacity="0.85"/>
<line x1="273.3" y1="369.3" x2="273.3" y2="374.2" stroke="#111" stroke-width="1" stroke-dasharray="1,1.2"/>
<line x1="273.3" y1="380.4" x2="273.3" y2="382.7" stroke="#111" stroke-width="1" stroke-dasharray="1,1.2"/>
<line x1="269.8" y1="369.3" x2="276.8" y2="369.3" stroke="#111" stroke-width="1.1"/>
<line x1="269.8" y1="382.7" x2="276.8" y2="382.7" stroke="#111" stroke-width="1.1"/>
<rect x="266.40000000000003" y="374.2" width="13.8" height="6.199999999999989" fill="#f4cc8e"/>
<line x1="266.40000000000003" y1="375.8" x2="280.2" y2="375.8" stroke="#de8a14" stroke-width="1.3"/>
<circle cx="273.3" cy="369.3" r="1.25" fill="#e39420" fill-opacity="0.85"/>
<circle cx="273.3" cy="373" r="1.25" fill="#e39420" fill-opacity="0.85"/>
<circle cx="273.3" cy="376.5" r="1.25" fill="#e39420" fill-opacity="0.85"/>
<circle cx="273.3" cy="379" r="1.25" fill="#e39420" fill-opacity="0.85"/>
<circle cx="273.3" cy="382.5" r="1.25" fill="#e39420" fill-opacity="0.85"/>
<text transform="translate(215.9,455.9) rotate(45)" font-size="9.9" fill="#222" stroke="#222" stroke-width="0.17">Vehicle</text>
<text transform="translate(233.7,455.9) rotate(45)" font-size="9.9" fill="#222" stroke="#222" stroke-width="0.17">DAC</text>
<text transform="translate(251.9,455.9) rotate(45)" font-size="9.9" fill="#222" stroke="#222" stroke-width="0.17">OR21</text>
<text transform="translate(269.9,455.9) rotate(45)" font-size="9.9" fill="#222" stroke="#222" stroke-width="0.17">AZA</text>
<text x="391.9" y="357.0" font-size="10" text-anchor="middle" fill="#111" stroke="#111" stroke-width="0.17">PLT</text>
<line x1="354.1" y1="363.5" x2="354.1" y2="447.2" stroke="#111" stroke-width="1.4"/>
<line x1="353.40000000000003" y1="446.5" x2="429.4" y2="446.5" stroke="#111" stroke-width="1.4"/>
<line x1="350.5" y1="444.8" x2="354.1" y2="444.8" stroke="#111" stroke-width="1.1"/>
<text x="345.8" y="448.2" font-size="10" text-anchor="end" fill="#222" stroke="#222" stroke-width="0.17">20</text>
<line x1="350.5" y1="431.04" x2="354.1" y2="431.04" stroke="#111" stroke-width="1.1"/>
<text x="345.8" y="434.44" font-size="10" text-anchor="end" fill="#222" stroke="#222" stroke-width="0.17">40</text>
<line x1="350.5" y1="417.28000000000003" x2="354.1" y2="417.28000000000003" stroke="#111" stroke-width="1.1"/>
<text x="345.8" y="420.68" font-size="10" text-anchor="end" fill="#222" stroke="#222" stroke-width="0.17">60</text>
<line x1="350.5" y1="403.52000000000004" x2="354.1" y2="403.52000000000004" stroke="#111" stroke-width="1.1"/>
<text x="345.8" y="406.92" font-size="10" text-anchor="end" fill="#222" stroke="#222" stroke-width="0.17">80</text>
<line x1="350.5" y1="389.76" x2="354.1" y2="389.76" stroke="#111" stroke-width="1.1"/>
<text x="345.8" y="393.15999999999997" font-size="10" text-anchor="end" fill="#222" stroke="#222" stroke-width="0.17">100</text>
<line x1="350.5" y1="376.0" x2="354.1" y2="376.0" stroke="#111" stroke-width="1.1"/>
<text x="345.8" y="379.4" font-size="10" text-anchor="end" fill="#222" stroke="#222" stroke-width="0.17">120</text>
<text transform="translate(322.5,404.8) rotate(-90)" font-size="10" text-anchor="middle" textLength="61" lengthAdjust="spacingAndGlyphs" fill="#222" stroke="#222" stroke-width="0.17">PLT (× 10<tspan font-size="7.5" dy="-3.6">4</tspan><tspan dy="3.6">/µl)</tspan></text>
<line x1="366" y1="388.7" x2="366" y2="391.0" stroke="#111" stroke-width="1" stroke-dasharray="1,1.2"/>
<line x1="366" y1="400.0" x2="366" y2="405.8" stroke="#111" stroke-width="1" stroke-dasharray="1,1.2"/>
<line x1="362.5" y1="388.7" x2="369.5" y2="388.7" stroke="#111" stroke-width="1.1"/>
<line x1="362.5" y1="405.8" x2="369.5" y2="405.8" stroke="#111" stroke-width="1.1"/>
<rect x="359.1" y="391.0" width="13.8" height="9.0" fill="#bed8f2"/>
<line x1="359.1" y1="391.5" x2="372.9" y2="391.5" stroke="#4d94dc" stroke-width="1.3"/>
<circle cx="366" cy="389" r="1.25" fill="#5aa2e2" fill-opacity="0.85"/>
<circle cx="366" cy="391.5" r="1.25" fill="#5aa2e2" fill-opacity="0.85"/>
<circle cx="366" cy="396" r="1.25" fill="#5aa2e2" fill-opacity="0.85"/>
<circle cx="366" cy="399" r="1.25" fill="#5aa2e2" fill-opacity="0.85"/>
<circle cx="366" cy="405.8" r="1.25" fill="#5aa2e2" fill-opacity="0.85"/>
<circle cx="366" cy="371.2" r="1.25" fill="#5aa2e2"/>
<line x1="383.8" y1="426.2" x2="383.8" y2="427.5" stroke="#111" stroke-width="1" stroke-dasharray="1,1.2"/>
<line x1="383.8" y1="434.6" x2="383.8" y2="443.8" stroke="#111" stroke-width="1" stroke-dasharray="1,1.2"/>
<line x1="380.3" y1="426.2" x2="387.3" y2="426.2" stroke="#111" stroke-width="1.1"/>
<line x1="380.3" y1="443.8" x2="387.3" y2="443.8" stroke="#111" stroke-width="1.1"/>
<rect x="376.90000000000003" y="427.5" width="13.8" height="7.100000000000023" fill="#b0d696"/>
<line x1="376.90000000000003" y1="428.5" x2="390.7" y2="428.5" stroke="#5ea234" stroke-width="1.3"/>
<circle cx="383.8" cy="426.2" r="1.25" fill="#64a83a" fill-opacity="0.85"/>
<circle cx="383.8" cy="428.5" r="1.25" fill="#64a83a" fill-opacity="0.85"/>
<circle cx="383.8" cy="431" r="1.25" fill="#64a83a" fill-opacity="0.85"/>
<circle cx="383.8" cy="434" r="1.25" fill="#64a83a" fill-opacity="0.85"/>
<circle cx="383.8" cy="437" r="1.25" fill="#64a83a" fill-opacity="0.85"/>
<circle cx="383.8" cy="443.8" r="1.25" fill="#64a83a" fill-opacity="0.85"/>
<circle cx="383.8" cy="404.4" r="1.25" fill="#64a83a"/>
<line x1="401.2" y1="401.9" x2="401.2" y2="406.3" stroke="#111" stroke-width="1" stroke-dasharray="1,1.2"/>
<line x1="401.2" y1="415.4" x2="401.2" y2="426.5" stroke="#111" stroke-width="1" stroke-dasharray="1,1.2"/>
<line x1="397.7" y1="401.9" x2="404.7" y2="401.9" stroke="#111" stroke-width="1.1"/>
<line x1="397.7" y1="426.5" x2="404.7" y2="426.5" stroke="#111" stroke-width="1.1"/>
<rect x="394.3" y="406.3" width="13.8" height="9.099999999999966" fill="#d68a94"/>
<line x1="394.3" y1="406.9" x2="408.09999999999997" y2="406.9" stroke="#a8002c" stroke-width="1.3"/>
<circle cx="401.2" cy="402" r="1.25" fill="#b3123c" fill-opacity="0.85"/>
<circle cx="401.2" cy="404" r="1.25" fill="#b3123c" fill-opacity="0.85"/>
<circle cx="401.2" cy="409" r="1.25" fill="#b3123c" fill-opacity="0.85"/>
<circle cx="401.2" cy="411.5" r="1.25" fill="#b3123c" fill-opacity="0.85"/>
<circle cx="401.2" cy="414" r="1.25" fill="#b3123c" fill-opacity="0.85"/>
<circle cx="401.2" cy="420" r="1.25" fill="#b3123c" fill-opacity="0.85"/>
<circle cx="401.2" cy="426.5" r="1.25" fill="#b3123c" fill-opacity="0.85"/>
<line x1="418.5" y1="382.3" x2="418.5" y2="397.7" stroke="#111" stroke-width="1" stroke-dasharray="1,1.2"/>
<line x1="418.5" y1="409.2" x2="418.5" y2="411.5" stroke="#111" stroke-width="1" stroke-dasharray="1,1.2"/>
<line x1="415.0" y1="382.3" x2="422.0" y2="382.3" stroke="#111" stroke-width="1.1"/>
<line x1="415.0" y1="411.5" x2="422.0" y2="411.5" stroke="#111" stroke-width="1.1"/>
<rect x="411.6" y="397.7" width="13.8" height="11.5" fill="#f4cc8e"/>
<line x1="411.6" y1="408.3" x2="425.4" y2="408.3" stroke="#de8a14" stroke-width="1.3"/>
<circle cx="418.5" cy="382.3" r="1.25" fill="#e39420" fill-opacity="0.85"/>
<circle cx="418.5" cy="389" r="1.25" fill="#e39420" fill-opacity="0.85"/>
<circle cx="418.5" cy="396" r="1.25" fill="#e39420" fill-opacity="0.85"/>
<circle cx="418.5" cy="400.5" r="1.25" fill="#e39420" fill-opacity="0.85"/>
<circle cx="418.5" cy="406" r="1.25" fill="#e39420" fill-opacity="0.85"/>
<circle cx="418.5" cy="411.5" r="1.25" fill="#e39420" fill-opacity="0.85"/>
<text transform="translate(362.6,455.1) rotate(45)" font-size="9.9" fill="#222" stroke="#222" stroke-width="0.17">Vehicle</text>
<text transform="translate(380.4,455.1) rotate(45)" font-size="9.9" fill="#222" stroke="#222" stroke-width="0.17">DAC</text>
<text transform="translate(397.8,455.1) rotate(45)" font-size="9.9" fill="#222" stroke="#222" stroke-width="0.17">OR21</text>
<text transform="translate(415.1,455.1) rotate(45)" font-size="9.9" fill="#222" stroke="#222" stroke-width="0.17">AZA</text>
<text x="98.5" y="508.2" font-size="10" text-anchor="middle" fill="#111" stroke="#111" stroke-width="0.17">WBC</text>
<line x1="60.8" y1="514.3" x2="60.8" y2="598.5" stroke="#111" stroke-width="1.4"/>
<line x1="60.099999999999994" y1="597.8" x2="136.5" y2="597.8" stroke="#111" stroke-width="1.4"/>
<line x1="57.199999999999996" y1="597.6" x2="60.8" y2="597.6" stroke="#111" stroke-width="1.1"/>
<text x="53.6" y="601.0" font-size="10" text-anchor="end" fill="#222" stroke="#222" stroke-width="0.17">0</text>
<line x1="57.199999999999996" y1="584.87" x2="60.8" y2="584.87" stroke="#111" stroke-width="1.1"/>
<text x="53.6" y="588.27" font-size="10" text-anchor="end" fill="#222" stroke="#222" stroke-width="0.17">10</text>
<line x1="57.199999999999996" y1="572.14" x2="60.8" y2="572.14" stroke="#111" stroke-width="1.1"/>
<text x="53.6" y="575.54" font-size="10" text-anchor="end" fill="#222" stroke="#222" stroke-width="0.17">20</text>
<line x1="57.199999999999996" y1="559.4100000000001" x2="60.8" y2="559.4100000000001" stroke="#111" stroke-width="1.1"/>
<text x="53.6" y="562.8100000000001" font-size="10" text-anchor="end" fill="#222" stroke="#222" stroke-width="0.17">30</text>
<line x1="57.199999999999996" y1="546.6800000000001" x2="60.8" y2="546.6800000000001" stroke="#111" stroke-width="1.1"/>
<text x="53.6" y="550.08" font-size="10" text-anchor="end" fill="#222" stroke="#222" stroke-width="0.17">40</text>
<line x1="57.199999999999996" y1="533.95" x2="60.8" y2="533.95" stroke="#111" stroke-width="1.1"/>
<text x="53.6" y="537.35" font-size="10" text-anchor="end" fill="#222" stroke="#222" stroke-width="0.17">50</text>
<line x1="57.199999999999996" y1="521.22" x2="60.8" y2="521.22" stroke="#111" stroke-width="1.1"/>
<text x="53.6" y="524.62" font-size="10" text-anchor="end" fill="#222" stroke="#222" stroke-width="0.17">60</text>
<text transform="translate(34.5,556) rotate(-90)" font-size="10" text-anchor="middle" textLength="68.7" lengthAdjust="spacingAndGlyphs" fill="#222" stroke="#222" stroke-width="0.17">WBC (× 10<tspan font-size="7.5" dy="-3.6">2</tspan><tspan dy="3.6">/µl)</tspan></text>
<line x1="73.1" y1="537.6" x2="73.1" y2="557.2" stroke="#111" stroke-width="1" stroke-dasharray="1,1.2"/>
<line x1="73.1" y1="572.2" x2="73.1" y2="576.2" stroke="#111" stroke-width="1" stroke-dasharray="1,1.2"/>
<line x1="69.6" y1="537.6" x2="76.6" y2="537.6" stroke="#111" stroke-width="1.1"/>
<line x1="69.6" y1="576.2" x2="76.6" y2="576.2" stroke="#111" stroke-width="1.1"/>
<rect x="66.19999999999999" y="557.2" width="13.8" height="15.0" fill="#bed8f2"/>
<line x1="66.19999999999999" y1="571.1" x2="80.0" y2="571.1" stroke="#4d94dc" stroke-width="1.3"/>
<circle cx="73.1" cy="537.6" r="1.25" fill="#5aa2e2" fill-opacity="0.85"/>
<circle cx="73.1" cy="546" r="1.25" fill="#5aa2e2" fill-opacity="0.85"/>
<circle cx="73.1" cy="569" r="1.25" fill="#5aa2e2" fill-opacity="0.85"/>
<circle cx="73.1" cy="574" r="1.25" fill="#5aa2e2" fill-opacity="0.85"/>
<circle cx="73.1" cy="576.2" r="1.25" fill="#5aa2e2" fill-opacity="0.85"/>
<line x1="90.4" y1="586.1" x2="90.4" y2="588.8" stroke="#111" stroke-width="1" stroke-dasharray="1,1.2"/>
<line x1="90.4" y1="593.5" x2="90.4" y2="595.8" stroke="#111" stroke-width="1" stroke-dasharray="1,1.2"/>
<line x1="86.9" y1="586.1" x2="93.9" y2="586.1" stroke="#111" stroke-width="1.1"/>
<line x1="86.9" y1="595.8" x2="93.9" y2="595.8" stroke="#111" stroke-width="1.1"/>
<rect x="83.5" y="588.8" width="13.8" height="4.7000000000000455" fill="#b0d696"/>
<line x1="83.5" y1="591.8" x2="97.30000000000001" y2="591.8" stroke="#5ea234" stroke-width="1.3"/>
<circle cx="90.4" cy="586.1" r="1.25" fill="#64a83a" fill-opacity="0.85"/>
<circle cx="90.4" cy="589" r="1.25" fill="#64a83a" fill-opacity="0.85"/>
<circle cx="90.4" cy="591.5" r="1.25" fill="#64a83a" fill-opacity="0.85"/>
<circle cx="90.4" cy="594" r="1.25" fill="#64a83a" fill-opacity="0.85"/>
<circle cx="90.4" cy="595.8" r="1.25" fill="#64a83a" fill-opacity="0.85"/>
<line x1="108.2" y1="572.2" x2="108.2" y2="573.4" stroke="#111" stroke-width="1" stroke-dasharray="1,1.2"/>
<line x1="108.2" y1="578.5" x2="108.2" y2="581.2" stroke="#111" stroke-width="1" stroke-dasharray="1,1.2"/>
<line x1="104.7" y1="572.2" x2="111.7" y2="572.2" stroke="#111" stroke-width="1.1"/>
<line x1="104.7" y1="581.2" x2="111.7" y2="581.2" stroke="#111" stroke-width="1.1"/>
<rect x="101.3" y="573.4" width="13.8" height="5.100000000000023" fill="#d68a94"/>
<line x1="101.3" y1="574.3" x2="115.10000000000001" y2="574.3" stroke="#a8002c" stroke-width="1.3"/>
<circle cx="108.2" cy="572.2" r="1.25" fill="#b3123c" fill-opacity="0.85"/>
<circle cx="108.2" cy="574.5" r="1.25" fill="#b3123c" fill-opacity="0.85"/>
<circle cx="108.2" cy="577" r="1.25" fill="#b3123c" fill-opacity="0.85"/>
<circle cx="108.2" cy="581.2" r="1.25" fill="#b3123c" fill-opacity="0.85"/>
<circle cx="108.2" cy="518" r="1.25" fill="#b3123c"/>
<line x1="125.7" y1="567.4" x2="125.7" y2="569.9" stroke="#111" stroke-width="1" stroke-dasharray="1,1.2"/>
<line x1="125.7" y1="582.6" x2="125.7" y2="583.8" stroke="#111" stroke-width="1" stroke-dasharray="1,1.2"/>
<line x1="122.2" y1="567.4" x2="129.2" y2="567.4" stroke="#111" stroke-width="1.1"/>
<line x1="122.2" y1="583.8" x2="129.2" y2="583.8" stroke="#111" stroke-width="1.1"/>
<rect x="118.8" y="569.9" width="13.8" height="12.700000000000045" fill="#f4cc8e"/>
<line x1="118.8" y1="579.6" x2="132.6" y2="579.6" stroke="#de8a14" stroke-width="1.3"/>
<circle cx="125.7" cy="567.4" r="1.25" fill="#e39420" fill-opacity="0.85"/>
<circle cx="125.7" cy="572.5" r="1.25" fill="#e39420" fill-opacity="0.85"/>
<circle cx="125.7" cy="580" r="1.25" fill="#e39420" fill-opacity="0.85"/>
<circle cx="125.7" cy="583.8" r="1.25" fill="#e39420" fill-opacity="0.85"/>
<circle cx="125.7" cy="535.8" r="1.25" fill="#e39420"/>
<text transform="translate(69.7,606.4) rotate(45)" font-size="9.9" fill="#222" stroke="#222" stroke-width="0.17">Vehicle</text>
<text transform="translate(87.0,606.4) rotate(45)" font-size="9.9" fill="#222" stroke="#222" stroke-width="0.17">DAC</text>
<text transform="translate(104.8,606.4) rotate(45)" font-size="9.9" fill="#222" stroke="#222" stroke-width="0.17">OR21</text>
<text transform="translate(122.3,606.4) rotate(45)" font-size="9.9" fill="#222" stroke="#222" stroke-width="0.17">AZA</text>
<text x="245" y="508.2" font-size="10" text-anchor="middle" fill="#111" stroke="#111" stroke-width="0.17">Neutrophil</text>
<line x1="207.3" y1="514.3" x2="207.3" y2="598.1" stroke="#111" stroke-width="1.4"/>
<line x1="206.60000000000002" y1="597.4" x2="283" y2="597.4" stroke="#111" stroke-width="1.4"/>
<line x1="203.70000000000002" y1="594.6" x2="207.3" y2="594.6" stroke="#111" stroke-width="1.1"/>
<text x="199.6" y="598.0" font-size="10" text-anchor="end" fill="#222" stroke="#222" stroke-width="0.17">0</text>
<line x1="203.70000000000002" y1="575.45" x2="207.3" y2="575.45" stroke="#111" stroke-width="1.1"/>
<text x="199.6" y="578.85" font-size="10" text-anchor="end" fill="#222" stroke="#222" stroke-width="0.17">10</text>
<line x1="203.70000000000002" y1="556.3000000000001" x2="207.3" y2="556.3000000000001" stroke="#111" stroke-width="1.1"/>
<text x="199.6" y="559.7" font-size="10" text-anchor="end" fill="#222" stroke="#222" stroke-width="0.17">20</text>
<line x1="203.70000000000002" y1="537.15" x2="207.3" y2="537.15" stroke="#111" stroke-width="1.1"/>
<text x="199.6" y="540.55" font-size="10" text-anchor="end" fill="#222" stroke="#222" stroke-width="0.17">30</text>
<line x1="203.70000000000002" y1="518.0" x2="207.3" y2="518.0" stroke="#111" stroke-width="1.1"/>
<text x="199.6" y="521.4" font-size="10" text-anchor="end" fill="#222" stroke="#222" stroke-width="0.17">40</text>
<text transform="translate(181,555.3) rotate(-90)" font-size="10" text-anchor="middle" textLength="92.5" lengthAdjust="spacingAndGlyphs" fill="#222" stroke="#222" stroke-width="0.17">Neutrophil (× 10<tspan font-size="7.5" dy="-3.6">2</tspan><tspan dy="3.6">/µl)</tspan></text>
<line x1="219.2" y1="540.4" x2="219.2" y2="549.6" stroke="#111" stroke-width="1" stroke-dasharray="1,1.2"/>
<line x1="219.2" y1="565.3" x2="219.2" y2="569.7" stroke="#111" stroke-width="1" stroke-dasharray="1,1.2"/>
<line x1="215.7" y1="540.4" x2="222.7" y2="540.4" stroke="#111" stroke-width="1.1"/>
<line x1="215.7" y1="569.7" x2="222.7" y2="569.7" stroke="#111" stroke-width="1.1"/>
<rect x="212.29999999999998" y="549.6" width="13.8" height="15.699999999999932" fill="#bed8f2"/>
<line x1="212.29999999999998" y1="560.5" x2="226.1" y2="560.5" stroke="#4d94dc" stroke-width="1.3"/>
<circle cx="219.2" cy="540.4" r="1.25" fill="#5aa2e2" fill-opacity="0.85"/>
<circle cx="219.2" cy="547" r="1.25" fill="#5aa2e2" fill-opacity="0.85"/>
<circle cx="219.2" cy="559" r="1.25" fill="#5aa2e2" fill-opacity="0.85"/>
<circle cx="219.2" cy="563" r="1.25" fill="#5aa2e2" fill-opacity="0.85"/>
<circle cx="219.2" cy="569.7" r="1.25" fill="#5aa2e2" fill-opacity="0.85"/>
<circle cx="219.2" cy="524.9" r="1.25" fill="#5aa2e2"/>
<line x1="237.4" y1="580.8" x2="237.4" y2="584.9" stroke="#111" stroke-width="1" stroke-dasharray="1,1.2"/>
<line x1="237.4" y1="591.6" x2="237.4" y2="593.5" stroke="#111" stroke-width="1" stroke-dasharray="1,1.2"/>
<line x1="233.9" y1="580.8" x2="240.9" y2="580.8" stroke="#111" stroke-width="1.1"/>
<line x1="233.9" y1="593.5" x2="240.9" y2="593.5" stroke="#111" stroke-width="1.1"/>
<rect x="230.5" y="584.9" width="13.8" height="6.7000000000000455" fill="#b0d696"/>
<line x1="230.5" y1="588.4" x2="244.3" y2="588.4" stroke="#5ea234" stroke-width="1.3"/>
<circle cx="237.4" cy="580.8" r="1.25" fill="#64a83a" fill-opacity="0.85"/>
<circle cx="237.4" cy="584" r="1.25" fill="#64a83a" fill-opacity="0.85"/>
<circle cx="237.4" cy="587" r="1.25" fill="#64a83a" fill-opacity="0.85"/>
<circle cx="237.4" cy="590" r="1.25" fill="#64a83a" fill-opacity="0.85"/>
<circle cx="237.4" cy="593.5" r="1.25" fill="#64a83a" fill-opacity="0.85"/>
<line x1="254.9" y1="561.8" x2="254.9" y2="562.3" stroke="#111" stroke-width="1" stroke-dasharray="1,1.2"/>
<line x1="254.9" y1="567.4" x2="254.9" y2="575.0" stroke="#111" stroke-width="1" stroke-dasharray="1,1.2"/>
<line x1="251.4" y1="561.8" x2="258.4" y2="561.8" stroke="#111" stroke-width="1.1"/>
<line x1="251.4" y1="575.0" x2="258.4" y2="575.0" stroke="#111" stroke-width="1.1"/>
<rect x="248.0" y="562.3" width="13.8" height="5.100000000000023" fill="#d68a94"/>
<line x1="248.0" y1="565.8" x2="261.8" y2="565.8" stroke="#a8002c" stroke-width="1.3"/>
<circle cx="254.9" cy="562" r="1.25" fill="#b3123c" fill-opacity="0.85"/>
<circle cx="254.9" cy="564.5" r="1.25" fill="#b3123c" fill-opacity="0.85"/>
<circle cx="254.9" cy="567" r="1.25" fill="#b3123c" fill-opacity="0.85"/>
<circle cx="254.9" cy="575" r="1.25" fill="#b3123c" fill-opacity="0.85"/>
<circle cx="254.9" cy="516.6" r="1.25" fill="#b3123c"/>
<line x1="272.7" y1="553.5" x2="272.7" y2="557.7" stroke="#111" stroke-width="1" stroke-dasharray="1,1.2"/>
<line x1="272.7" y1="576.8" x2="272.7" y2="578.5" stroke="#111" stroke-width="1" stroke-dasharray="1,1.2"/>
<line x1="269.2" y1="553.5" x2="276.2" y2="553.5" stroke="#111" stroke-width="1.1"/>
<line x1="269.2" y1="578.5" x2="276.2" y2="578.5" stroke="#111" stroke-width="1.1"/>
<rect x="265.8" y="557.7" width="13.8" height="19.09999999999991" fill="#f4cc8e"/>
<line x1="265.8" y1="572.2" x2="279.59999999999997" y2="572.2" stroke="#de8a14" stroke-width="1.3"/>
<circle cx="272.7" cy="553.5" r="1.25" fill="#e39420" fill-opacity="0.85"/>
<circle cx="272.7" cy="560" r="1.25" fill="#e39420" fill-opacity="0.85"/>
<circle cx="272.7" cy="566" r="1.25" fill="#e39420" fill-opacity="0.85"/>
<circle cx="272.7" cy="572" r="1.25" fill="#e39420" fill-opacity="0.85"/>
<circle cx="272.7" cy="578.5" r="1.25" fill="#e39420" fill-opacity="0.85"/>
<circle cx="272.7" cy="520.3" r="1.25" fill="#e39420"/>
<text transform="translate(215.8,606.0) rotate(45)" font-size="9.9" fill="#222" stroke="#222" stroke-width="0.17">Vehicle</text>
<text transform="translate(234.0,606.0) rotate(45)" font-size="9.9" fill="#222" stroke="#222" stroke-width="0.17">DAC</text>
<text transform="translate(251.5,606.0) rotate(45)" font-size="9.9" fill="#222" stroke="#222" stroke-width="0.17">OR21</text>
<text transform="translate(269.3,606.0) rotate(45)" font-size="9.9" fill="#222" stroke="#222" stroke-width="0.17">AZA</text>
<text x="8.8" y="658.4" font-size="14.3" font-weight="bold" fill="#000" stroke="#000" stroke-width="0.17">F</text>
<g fill="#111" transform="translate(68.5,695.3)"><circle cx="0" cy="0" r="2.1"/><path d="M-3.5,3.6 Q-4.4,3.6 -4.4,4.8 L-4.4,11.8 Q-4.4,12.6 -3.8,12.6 Q-3.2,12.6 -3.2,11.8 L-3.2,6 L-2.8,6 L-2.8,23.6 Q-2.8,24.3 -1.6,24.3 Q-0.4,24.3 -0.4,23.6 L-0.4,14 L0.4,14 L0.4,23.6 Q0.4,24.3 1.6,24.3 Q2.8,24.3 2.8,23.6 L2.8,6 L3.2,6 L3.2,11.8 Q3.2,12.6 3.8,12.6 Q4.4,12.6 4.4,11.8 L4.4,4.8 Q4.4,3.6 3.5,3.6 Z"/></g>
<g transform="translate(90.8,686.9)"><rect x="-1.25" y="2.0" width="2.5" height="14.6" rx="0.6" fill="#b84a4c" stroke="#a9b0b0" stroke-width="0.45"/><rect x="-0.8" y="3.2" width="1.6" height="1.3" fill="#f6efef"/><path d="M-2.3,0 L2.3,0 L2.3,1.1 L1.1,2.2 L-1.1,2.2 L-2.3,1.1 Z" fill="#b0002a"/></g>
<line x1="81.2" y1="707.7" x2="99" y2="707.7" stroke="#111" stroke-width="1.3"/>
<path d="M95.2,704.7 L102,707.7 L95.2,710.7 L96.7,707.7 Z" fill="#111"/>
<circle cx="109.3" cy="698.1" r="1.3" fill="#fff" stroke="#111" stroke-width="0.95"/>
<circle cx="113.3" cy="698.1" r="1.7" fill="#111"/>
<circle cx="116.9" cy="696.4" r="1.3" fill="#fff" stroke="#111" stroke-width="0.95"/>
<circle cx="111.5" cy="701.7" r="1.7" fill="#111"/>
<circle cx="114.5" cy="705.9" r="1.7" fill="#111"/>
<circle cx="112.3" cy="709.7" r="1.3" fill="#fff" stroke="#111" stroke-width="0.95"/>
<circle cx="115.7" cy="712" r="1.7" fill="#111"/>
<circle cx="119.5" cy="712.7" r="1.3" fill="#fff" stroke="#111" stroke-width="0.95"/>
<circle cx="111.8" cy="714.2" r="1.7" fill="#111"/>
<circle cx="115.4" cy="716.3" r="1.7" fill="#111"/>
<text x="36.3" y="729" font-size="10" textLength="53.7" lengthAdjust="spacingAndGlyphs" fill="#1a1a1a" stroke="#1a1a1a" stroke-width="0.17">Chronic ATL</text>
<text x="101.9" y="728.6" font-size="10" textLength="27.7" lengthAdjust="spacingAndGlyphs" fill="#1a1a1a" stroke="#1a1a1a" stroke-width="0.17">PBMC</text>
<path d="M126.2,707.5 L164.3,692.3" stroke="#111" stroke-width="1.3" fill="none"/>
<line x1="164.3" y1="692.3" x2="164.3" y2="704.6" stroke="#111" stroke-width="1.3"/>
<path d="M161.4,701.0 L164.3,707.6 L167.20000000000002,701.0 L164.3,702.5 Z" fill="#111"/>
<line x1="210" y1="692.3" x2="210" y2="704.3" stroke="#111" stroke-width="1.3"/>
<path d="M207.1,700.6999999999999 L210,707.3 L212.9,700.6999999999999 L210,702.1999999999999 Z" fill="#111"/>
<line x1="164.3" y1="708" x2="458" y2="708" stroke="#111" stroke-width="1.5"/>
<path d="M454.2,705 L461,708 L454.2,711 L455.7,708 Z" fill="#111"/>
<path d="M207.04999999999998,716.4 L210.2,710 L213.35,716.4 Z" fill="#a8002c"/>
<path d="M215.975,716.4 L219.125,710 L222.275,716.4 Z" fill="#a8002c"/>
<path d="M224.89999999999998,716.4 L228.04999999999998,710 L231.2,716.4 Z" fill="#a8002c"/>
<path d="M233.825,716.4 L236.975,710 L240.125,716.4 Z" fill="#a8002c"/>
<path d="M242.74999999999997,716.4 L245.89999999999998,710 L249.04999999999998,716.4 Z" fill="#a8002c"/>
<path d="M251.67499999999998,716.4 L254.825,710 L257.97499999999997,716.4 Z" fill="#a8002c"/>
<path d="M260.6,716.4 L263.75,710 L266.9,716.4 Z" fill="#a8002c"/>
<path d="M269.52500000000003,716.4 L272.675,710 L275.825,716.4 Z" fill="#a8002c"/>
<path d="M278.45000000000005,716.4 L281.6,710 L284.75,716.4 Z" fill="#a8002c"/>
<path d="M287.375,716.4 L290.525,710 L293.67499999999995,716.4 Z" fill="#a8002c"/>
<path d="M296.3,716.4 L299.45,710 L302.59999999999997,716.4 Z" fill="#a8002c"/>
<path d="M305.225,716.4 L308.375,710 L311.525,716.4 Z" fill="#a8002c"/>
<path d="M314.15000000000003,716.4 L317.3,710 L320.45,716.4 Z" fill="#a8002c"/>
<path d="M323.07500000000005,716.4 L326.225,710 L329.375,716.4 Z" fill="#a8002c"/>
<path d="M332.0,716.4 L335.15,710 L338.29999999999995,716.4 Z" fill="#a8002c"/>
<path d="M340.925,716.4 L344.075,710 L347.22499999999997,716.4 Z" fill="#a8002c"/>
<path d="M349.85,716.4 L353.0,710 L356.15,716.4 Z" fill="#a8002c"/>
<path d="M358.77500000000003,716.4 L361.925,710 L365.075,716.4 Z" fill="#a8002c"/>
<path d="M367.70000000000005,716.4 L370.85,710 L374.0,716.4 Z" fill="#a8002c"/>
<path d="M376.625,716.4 L379.775,710 L382.92499999999995,716.4 Z" fill="#a8002c"/>
<path d="M385.55,716.4 L388.7,710 L391.84999999999997,716.4 Z" fill="#a8002c"/>
<path d="M394.475,716.4 L397.625,710 L400.775,716.4 Z" fill="#a8002c"/>
<path d="M403.40000000000003,716.4 L406.55,710 L409.7,716.4 Z" fill="#a8002c"/>
<path d="M412.32500000000005,716.4 L415.475,710 L418.625,716.4 Z" fill="#a8002c"/>
<path d="M421.25,716.4 L424.4,710 L427.54999999999995,716.4 Z" fill="#a8002c"/>
<path d="M430.17500000000007,716.4 L433.32500000000005,710 L436.475,716.4 Z" fill="#a8002c"/>
<path d="M439.1,716.4 L442.25,710 L445.4,716.4 Z" fill="#a8002c"/>
<path d="M448.02500000000003,716.4 L451.175,710 L454.325,716.4 Z" fill="#a8002c"/>
<text x="119.2" y="671" font-size="10" fill="#1a1a1a" stroke="#1a1a1a" stroke-width="0.17">Day</text>
<text x="164.3" y="671" font-size="10" text-anchor="middle" fill="#1a1a1a" stroke="#1a1a1a" stroke-width="0.17">-5</text>
<text x="210" y="671" font-size="10" text-anchor="middle" fill="#1a1a1a" stroke="#1a1a1a" stroke-width="0.17">0</text>
<text x="458.8" y="671" font-size="10" text-anchor="middle" fill="#1a1a1a" stroke="#1a1a1a" stroke-width="0.17">100</text>
<text x="119.2" y="686.3" font-size="10" textLength="71.4" lengthAdjust="spacingAndGlyphs" fill="#1a1a1a" stroke="#1a1a1a" stroke-width="0.17">Inoculation (SC)</text>
<text x="199.2" y="686.0" font-size="10" textLength="77.1" lengthAdjust="spacingAndGlyphs" fill="#1a1a1a" stroke="#1a1a1a" stroke-width="0.17">Grouping (n=4,5)</text>
<text x="212.3" y="728.8" font-size="10" textLength="236.7" lengthAdjust="spacingAndGlyphs" fill="#1a1a1a" stroke="#1a1a1a" stroke-width="0.17">Administration of OR-21 or vehicle (IP, twice a week)</text>
<use href="#mouse" x="151.5" y="712.7" width="24.0" height="24.0"/>
<use href="#mouse" x="457.5" y="712.9" width="24.0" height="24.0"/>
<line x1="115.3" y1="733" x2="115.3" y2="742" stroke="#111" stroke-width="1.1" stroke-dasharray="1.6,1.4"/>
<path d="M112.4,740.8 L115.3,747.2 L118.2,740.8 L115.3,742.8 Z" fill="#111"/>
<path d="M88 748h1v1h-1zM91 748h2v1h-2zM114 748h1v1h-1zM117 748h1v1h-1zM125 748h1v1h-1zM132 748h1v1h-1zM86 749h1v1h-1zM89 749h2v1h-2zM122 749h1v1h-1zM129 749h1v1h-1zM134 749h1v1h-1zM86 750h1v1h-1zM120 750h1v1h-1zM126 751h2v1h-2zM139 751h1v1h-1zM129 752h2v1h-2zM133 752h1v1h-1zM131 754h1v1h-1zM143 755h2v1h-2zM130 756h1v1h-1zM133 756h1v1h-1zM142 756h2v1h-2zM133 757h1v1h-1zM141 757h1v1h-1zM137 758h1v1h-1zM146 758h1v1h-1zM137 759h1v1h-1zM148 760h1v1h-1zM137 761h1v1h-1zM141 761h1v1h-1zM139 763h1v1h-1zM143 763h1v1h-1zM146 763h1v1h-1zM149 763h1v1h-1zM148 764h1v1h-1zM141 766h1v1h-1zM149 767h2v1h-2zM144 768h2v1h-2zM146 770h1v1h-1zM147 771h1v1h-1zM150 772h2v1h-2zM149 773h1v1h-1zM150 774h1v1h-1zM151 775h1v1h-1zM147 776h1v1h-1zM147 779h1v1h-1zM150 781h1v1h-1zM152 781h1v1h-1zM152 787h1v1h-1zM152 797h1v1h-1zM150 804h1v1h-1zM147 805h1v1h-1zM147 806h2v1h-2zM88 809h1v1h-1zM85 810h1v1h-1zM87 810h1v1h-1zM145 810h1v1h-1zM86 811h1v1h-1zM89 811h1v1h-1zM91 811h1v1h-1zM141 811h1v1h-1zM85 812h1v1h-1zM136 812h1v1h-1zM86 813h1v1h-1zM88 813h1v1h-1zM91 813h1v1h-1zM132 813h1v1h-1zM92 814h1v1h-1zM97 814h1v1h-1zM100 814h2v1h-2zM103 814h1v1h-1zM129 814h1v1h-1zM136 814h1v1h-1z" fill="#b4b4fa"/>
<path d="M99 748h1v1h-1zM89 750h1v1h-1zM91 750h1v1h-1zM117 750h1v1h-1zM87 751h1v1h-1zM116 751h1v1h-1zM120 751h1v1h-1zM116 752h1v1h-1zM121 753h1v1h-1zM123 753h1v1h-1zM121 755h1v1h-1zM126 755h1v1h-1zM124 756h2v1h-2zM127 758h1v1h-1zM130 758h1v1h-1zM129 759h1v1h-1zM131 759h1v1h-1zM133 761h1v1h-1zM127 762h2v1h-2zM134 762h2v1h-2zM131 763h1v1h-1zM134 763h1v1h-1zM137 763h1v1h-1zM134 764h1v1h-1zM130 765h1v1h-1zM131 766h1v1h-1zM134 768h1v1h-1zM85 769h1v1h-1zM136 769h1v1h-1zM140 769h1v1h-1zM139 770h1v1h-1zM141 770h1v1h-1zM86 771h1v1h-1zM139 772h1v1h-1zM141 772h1v1h-1zM141 773h2v1h-2zM86 774h1v1h-1zM140 774h2v1h-2zM86 775h1v1h-1zM136 775h1v1h-1zM136 776h1v1h-1zM140 776h4v1h-4zM137 777h1v1h-1zM140 777h2v1h-2zM140 778h2v1h-2zM144 778h1v1h-1zM139 779h1v1h-1zM144 779h1v1h-1zM142 780h1v1h-1zM146 784h2v1h-2zM147 785h1v1h-1zM147 786h1v1h-1zM149 789h1v1h-1zM151 795h1v1h-1zM149 797h1v1h-1zM150 798h1v1h-1zM148 800h1v1h-1zM145 803h1v1h-1zM143 805h1v1h-1zM145 806h1v1h-1zM139 808h1v1h-1zM139 809h1v1h-1zM96 810h1v1h-1zM134 810h1v1h-1zM95 811h1v1h-1zM134 811h1v1h-1zM97 812h1v1h-1zM110 813h1v1h-1zM118 813h2v1h-2zM123 813h1v1h-1zM125 813h1v1h-1zM107 814h1v1h-1zM111 814h1v1h-1zM115 814h1v1h-1z" fill="#aab4f0"/>
<path d="M137 748h2v1h-2zM143 748h1v1h-1zM145 748h1v1h-1zM151 748h1v1h-1zM137 749h1v1h-1zM149 749h1v1h-1zM140 750h1v1h-1zM150 750h1v1h-1zM142 752h1v1h-1zM146 752h1v1h-1zM146 754h1v1h-1zM149 755h1v1h-1zM147 756h1v1h-1zM150 759h1v1h-1zM152 808h1v1h-1zM147 811h2v1h-2zM144 812h1v1h-1zM87 814h1v1h-1z" fill="#b4befa"/>
<path d="M104 749h1v1h-1zM105 750h1v1h-1zM113 752h1v1h-1zM112 753h1v1h-1zM114 753h1v1h-1zM87 755h1v1h-1zM86 757h1v1h-1zM117 757h2v1h-2zM87 759h1v1h-1zM88 760h1v1h-1zM120 760h1v1h-1zM86 761h1v1h-1zM120 761h1v1h-1zM88 762h1v1h-1zM122 762h1v1h-1zM120 763h1v1h-1zM88 764h1v1h-1zM119 764h2v1h-2zM122 764h1v1h-1zM125 764h1v1h-1zM119 765h2v1h-2zM125 765h1v1h-1zM119 766h1v1h-1zM126 766h1v1h-1zM89 767h2v1h-2zM122 767h1v1h-1zM124 767h1v1h-1zM127 767h1v1h-1zM123 768h1v1h-1zM90 769h3v1h-3zM122 769h1v1h-1zM124 769h1v1h-1zM91 770h1v1h-1zM125 770h1v1h-1zM129 770h1v1h-1zM121 771h1v1h-1zM125 771h3v1h-3zM95 772h1v1h-1zM124 772h2v1h-2zM96 773h2v1h-2zM119 773h1v1h-1zM122 773h3v1h-3zM126 773h1v1h-1zM128 773h1v1h-1zM97 774h1v1h-1zM125 774h3v1h-3zM129 774h1v1h-1zM91 775h1v1h-1zM98 775h1v1h-1zM120 775h2v1h-2zM96 776h1v1h-1zM98 776h2v1h-2zM126 776h1v1h-1zM129 776h1v1h-1zM131 776h1v1h-1zM93 777h1v1h-1zM97 777h1v1h-1zM99 777h1v1h-1zM124 777h1v1h-1zM127 777h1v1h-1zM130 777h1v1h-1zM132 777h1v1h-1zM89 778h3v1h-3zM96 778h1v1h-1zM129 778h1v1h-1zM132 778h1v1h-1zM93 779h1v1h-1zM95 779h1v1h-1zM131 779h1v1h-1zM134 779h1v1h-1zM93 780h1v1h-1zM136 781h1v1h-1zM88 782h2v1h-2zM137 782h2v1h-2zM87 783h1v1h-1zM143 784h1v1h-1zM85 785h1v1h-1zM145 786h1v1h-1zM146 787h1v1h-1zM146 789h2v1h-2zM147 791h1v1h-1zM146 792h2v1h-2zM86 801h1v1h-1zM87 802h1v1h-1zM142 802h1v1h-1zM144 802h1v1h-1zM87 803h1v1h-1zM141 803h1v1h-1zM141 804h1v1h-1zM92 806h1v1h-1zM138 806h1v1h-1zM136 807h1v1h-1zM96 808h1v1h-1zM98 808h1v1h-1zM132 808h1v1h-1zM96 809h1v1h-1zM129 809h1v1h-1zM126 810h2v1h-2zM110 811h1v1h-1zM113 811h1v1h-1zM117 811h1v1h-1z" fill="#a0aaf0"/>
<path d="M105 749h1v1h-1zM85 757h1v1h-1zM85 759h1v1h-1zM123 759h1v1h-1zM85 761h1v1h-1zM125 761h1v1h-1zM126 764h1v1h-1zM127 765h1v1h-1zM130 767h1v1h-1zM129 768h1v1h-1zM131 768h1v1h-1zM87 769h1v1h-1zM88 770h1v1h-1zM130 771h1v1h-1zM88 772h1v1h-1zM131 772h1v1h-1zM134 772h1v1h-1zM132 773h1v1h-1zM134 773h1v1h-1zM135 774h1v1h-1zM133 775h1v1h-1zM135 775h1v1h-1zM87 777h1v1h-1zM136 777h1v1h-1zM88 778h1v1h-1zM136 778h1v1h-1zM139 781h1v1h-1zM148 789h1v1h-1zM147 797h1v1h-1zM147 798h1v1h-1zM144 803h1v1h-1zM86 804h1v1h-1zM134 809h1v1h-1zM98 810h1v1h-1zM133 810h1v1h-1zM108 812h1v1h-1zM110 812h1v1h-1z" fill="#aaaaf0"/>
<path d="M96 750h1v1h-1zM98 750h2v1h-2zM102 750h1v1h-1zM92 751h1v1h-1zM91 752h1v1h-1zM111 753h1v1h-1zM88 755h1v1h-1zM88 756h1v1h-1zM113 756h2v1h-2zM88 757h1v1h-1zM88 758h1v1h-1zM115 758h1v1h-1zM89 759h1v1h-1zM115 759h1v1h-1zM117 760h1v1h-1zM118 761h1v1h-1zM116 762h1v1h-1zM116 763h2v1h-2zM91 764h1v1h-1zM116 766h1v1h-1zM118 766h1v1h-1zM92 767h1v1h-1zM115 767h2v1h-2zM117 768h1v1h-1zM94 769h1v1h-1zM112 769h1v1h-1zM95 770h2v1h-2zM99 770h2v1h-2zM109 770h1v1h-1zM96 771h1v1h-1zM99 771h2v1h-2zM102 771h2v1h-2zM105 771h2v1h-2zM111 771h2v1h-2zM117 771h1v1h-1zM98 772h2v1h-2zM101 772h1v1h-1zM104 772h1v1h-1zM113 772h1v1h-1zM99 773h1v1h-1zM102 773h1v1h-1zM105 773h1v1h-1zM114 773h1v1h-1zM108 774h1v1h-1zM110 774h2v1h-2zM117 774h1v1h-1zM109 775h4v1h-4zM114 775h1v1h-1zM117 775h2v1h-2zM104 776h1v1h-1zM109 776h1v1h-1zM111 776h1v1h-1zM113 776h2v1h-2zM116 776h1v1h-1zM120 776h1v1h-1zM100 777h1v1h-1zM103 777h1v1h-1zM108 777h1v1h-1zM112 777h1v1h-1zM117 777h2v1h-2zM100 778h1v1h-1zM106 778h1v1h-1zM109 778h2v1h-2zM113 778h1v1h-1zM118 778h1v1h-1zM122 778h1v1h-1zM99 779h3v1h-3zM120 779h2v1h-2zM130 780h1v1h-1zM95 781h1v1h-1zM132 781h2v1h-2zM89 783h1v1h-1zM87 784h1v1h-1zM140 784h1v1h-1zM86 785h1v1h-1zM142 785h1v1h-1zM86 786h1v1h-1zM142 786h1v1h-1zM144 787h1v1h-1zM145 789h1v1h-1zM144 794h1v1h-1zM145 795h1v1h-1zM85 797h1v1h-1zM144 797h1v1h-1zM142 798h1v1h-1zM85 799h1v1h-1zM141 799h1v1h-1zM142 800h1v1h-1zM88 801h1v1h-1zM140 801h1v1h-1zM139 802h1v1h-1zM90 803h1v1h-1zM140 803h1v1h-1zM137 804h1v1h-1zM94 805h1v1h-1zM136 806h1v1h-1zM96 807h2v1h-2zM99 807h1v1h-1zM101 808h1v1h-1zM128 808h1v1h-1zM108 810h1v1h-1zM113 810h1v1h-1zM115 810h1v1h-1zM119 810h1v1h-1zM121 810h1v1h-1z" fill="#96a0f0"/>
<path d="M95 751h1v1h-1zM89 755h1v1h-1zM89 756h1v1h-1zM111 756h1v1h-1zM111 760h2v1h-2zM93 761h1v1h-1zM111 762h2v1h-2zM95 763h1v1h-1zM111 763h2v1h-2zM95 764h2v1h-2zM111 764h1v1h-1zM96 765h2v1h-2zM110 765h2v1h-2zM98 766h1v1h-1zM107 766h1v1h-1zM99 767h1v1h-1zM101 767h1v1h-1zM104 767h1v1h-1zM108 767h1v1h-1zM109 780h1v1h-1zM113 780h1v1h-1zM116 780h1v1h-1zM101 781h1v1h-1zM125 781h1v1h-1zM98 782h1v1h-1zM91 784h1v1h-1zM89 785h1v1h-1zM88 786h1v1h-1zM142 788h1v1h-1zM85 791h1v1h-1zM143 791h1v1h-1zM143 793h1v1h-1zM142 795h1v1h-1zM87 797h1v1h-1zM90 800h1v1h-1zM138 800h1v1h-1zM92 801h1v1h-1zM135 803h1v1h-1zM96 804h2v1h-2zM98 805h2v1h-2zM102 806h1v1h-1zM104 807h2v1h-2zM110 808h1v1h-1zM112 808h1v1h-1z" fill="#8296f0"/>
<path d="M96 751h1v1h-1zM103 751h1v1h-1zM90 758h1v1h-1zM91 759h1v1h-1zM96 763h1v1h-1zM109 764h1v1h-1zM98 765h1v1h-1zM101 766h1v1h-1zM103 766h1v1h-1zM124 781h1v1h-1zM90 785h1v1h-1zM86 789h1v1h-1zM86 795h1v1h-1zM139 798h1v1h-1zM138 799h1v1h-1zM94 802h1v1h-1zM134 803h1v1h-1zM98 804h1v1h-1zM132 804h1v1h-1zM100 805h1v1h-1zM103 806h1v1h-1zM107 807h1v1h-1zM123 807h1v1h-1z" fill="#828cf0"/>
<path d="M97 751h1v1h-1zM93 752h1v1h-1zM109 754h1v1h-1zM110 756h1v1h-1zM95 761h1v1h-1zM96 762h1v1h-1zM108 762h2v1h-2zM97 763h3v1h-3zM106 763h1v1h-1zM101 764h2v1h-2zM106 764h1v1h-1zM108 764h1v1h-1zM100 765h1v1h-1zM102 765h1v1h-1zM106 765h1v1h-1zM109 781h4v1h-4zM114 781h1v1h-1zM116 781h3v1h-3zM122 781h1v1h-1zM100 782h3v1h-3zM127 782h2v1h-2zM96 783h1v1h-1zM132 783h1v1h-1zM93 784h1v1h-1zM135 784h1v1h-1zM139 786h1v1h-1zM140 787h1v1h-1zM87 788h1v1h-1zM141 788h1v1h-1zM86 790h1v1h-1zM86 791h1v1h-1zM86 792h1v1h-1zM86 793h1v1h-1zM142 793h1v1h-1zM87 796h1v1h-1zM140 796h1v1h-1zM88 797h1v1h-1zM137 799h1v1h-1zM94 801h1v1h-1zM135 801h1v1h-1zM95 802h1v1h-1zM97 803h1v1h-1zM133 803h1v1h-1zM130 804h1v1h-1zM101 805h1v1h-1zM125 806h2v1h-2zM111 807h1v1h-1zM114 807h1v1h-1zM117 807h3v1h-3zM121 807h1v1h-1z" fill="#788cf0"/>
<path d="M98 751h1v1h-1zM90 755h1v1h-1zM109 759h1v1h-1zM107 762h1v1h-1zM104 782h1v1h-1zM96 802h1v1h-1zM133 802h1v1h-1z" fill="#7882f0"/>
<path d="M100 751h1v1h-1zM92 753h1v1h-1zM107 753h1v1h-1zM91 754h1v1h-1zM108 754h1v1h-1zM109 755h1v1h-1zM90 756h1v1h-1zM91 758h1v1h-1zM92 759h1v1h-1zM94 760h1v1h-1zM107 760h2v1h-2zM96 761h1v1h-1zM106 761h1v1h-1zM99 762h1v1h-1zM101 762h1v1h-1zM104 762h1v1h-1zM106 762h1v1h-1zM101 763h3v1h-3zM105 763h1v1h-1zM106 782h2v1h-2zM124 782h1v1h-1zM126 782h1v1h-1zM131 783h1v1h-1zM95 784h1v1h-1zM88 788h1v1h-1zM87 790h1v1h-1zM87 794h1v1h-1zM141 794h1v1h-1zM88 796h1v1h-1zM139 796h1v1h-1zM89 797h1v1h-1zM90 798h1v1h-1zM137 798h1v1h-1zM91 799h2v1h-2zM93 800h1v1h-1zM95 801h1v1h-1zM134 801h1v1h-1zM97 802h1v1h-1zM99 803h1v1h-1zM130 803h1v1h-1zM102 804h1v1h-1zM128 804h1v1h-1zM104 805h1v1h-1zM126 805h1v1h-1zM108 806h1v1h-1zM110 806h1v1h-1zM121 806h3v1h-3z" fill="#6e82f0"/>
<path d="M105 751h1v1h-1zM109 753h1v1h-1zM111 755h1v1h-1zM90 759h1v1h-1zM113 761h2v1h-2zM93 763h1v1h-1zM114 763h1v1h-1zM94 765h1v1h-1zM112 766h1v1h-1zM96 767h1v1h-1zM98 767h1v1h-1zM109 767h1v1h-1zM111 767h1v1h-1zM100 768h1v1h-1zM106 768h1v1h-1zM108 768h1v1h-1zM110 768h1v1h-1zM101 769h1v1h-1zM103 769h1v1h-1zM106 769h2v1h-2zM111 779h1v1h-1zM105 780h1v1h-1zM120 780h1v1h-1zM122 780h3v1h-3zM127 781h1v1h-1zM132 782h1v1h-1zM135 783h1v1h-1zM143 788h1v1h-1zM143 789h1v1h-1zM144 790h1v1h-1zM144 791h1v1h-1zM85 795h1v1h-1zM143 795h1v1h-1zM142 796h1v1h-1zM86 797h1v1h-1zM87 798h1v1h-1zM141 798h1v1h-1zM91 801h1v1h-1zM138 801h1v1h-1zM92 802h1v1h-1zM136 803h1v1h-1zM95 804h1v1h-1zM135 804h1v1h-1zM133 805h1v1h-1zM99 806h1v1h-1zM103 807h1v1h-1zM127 807h1v1h-1zM106 808h2v1h-2zM123 808h2v1h-2zM113 809h3v1h-3zM117 809h1v1h-1z" fill="#8c96f0"/>
<path d="M121 751h1v1h-1zM123 752h1v1h-1zM131 757h1v1h-1zM133 759h1v1h-1zM138 763h1v1h-1zM139 765h1v1h-1zM141 768h1v1h-1z" fill="#aab4fa"/>
<path d="M95 752h1v1h-1zM106 753h1v1h-1zM91 755h1v1h-1zM92 758h1v1h-1zM100 761h2v1h-2zM104 783h1v1h-1zM128 783h1v1h-1zM97 784h1v1h-1zM135 785h1v1h-1zM137 786h1v1h-1zM90 787h1v1h-1zM89 788h1v1h-1zM140 789h1v1h-1zM140 793h1v1h-1zM88 794h1v1h-1zM134 799h1v1h-1zM97 801h1v1h-1zM131 801h1v1h-1zM127 803h1v1h-1zM105 804h1v1h-1zM109 805h2v1h-2zM120 805h2v1h-2z" fill="#5a78f0"/>
<path d="M96 752h1v1h-1zM92 754h1v1h-1zM107 758h1v1h-1zM94 759h1v1h-1zM106 759h1v1h-1zM97 760h1v1h-1zM103 760h2v1h-2zM108 783h3v1h-3zM126 783h1v1h-1zM99 784h1v1h-1zM101 784h1v1h-1zM131 784h1v1h-1zM95 785h1v1h-1zM134 785h1v1h-1zM92 786h1v1h-1zM136 786h1v1h-1zM89 789h1v1h-1zM140 790h1v1h-1zM88 791h1v1h-1zM140 791h1v1h-1zM88 792h1v1h-1zM140 792h1v1h-1zM88 793h1v1h-1zM139 794h1v1h-1zM89 795h1v1h-1zM138 795h1v1h-1zM137 796h1v1h-1zM91 797h1v1h-1zM136 797h1v1h-1zM94 799h1v1h-1zM133 799h1v1h-1zM97 800h1v1h-1zM131 800h1v1h-1zM130 801h1v1h-1zM101 802h2v1h-2zM128 802h1v1h-1zM104 803h1v1h-1zM125 803h2v1h-2zM107 804h3v1h-3zM121 804h3v1h-3z" fill="#506ef0"/>
<path d="M97 752h1v1h-1zM105 753h1v1h-1zM107 755h1v1h-1zM92 757h1v1h-1zM107 757h1v1h-1zM105 759h1v1h-1zM98 760h1v1h-1zM102 760h1v1h-1zM112 783h2v1h-2zM124 783h1v1h-1zM102 784h2v1h-2zM91 787h1v1h-1zM90 788h1v1h-1zM139 789h1v1h-1zM139 793h1v1h-1zM135 797h1v1h-1zM95 799h1v1h-1zM132 799h1v1h-1zM100 801h1v1h-1zM103 802h1v1h-1zM106 803h1v1h-1zM124 803h1v1h-1zM110 804h2v1h-2zM118 804h3v1h-3z" fill="#4664f0"/>
<path d="M98 752h2v1h-2zM95 753h1v1h-1zM104 753h1v1h-1zM93 754h1v1h-1zM106 754h1v1h-1zM92 755h1v1h-1zM106 755h1v1h-1zM107 756h1v1h-1zM106 757h1v1h-1zM93 758h2v1h-2zM105 758h2v1h-2zM95 759h1v1h-1zM104 759h1v1h-1zM99 760h3v1h-3zM115 783h3v1h-3zM120 783h1v1h-1zM122 783h1v1h-1zM106 784h5v1h-5zM128 784h1v1h-1zM130 784h1v1h-1zM96 785h5v1h-5zM132 785h2v1h-2zM94 786h1v1h-1zM92 787h1v1h-1zM137 787h1v1h-1zM137 788h2v1h-2zM90 789h1v1h-1zM138 789h1v1h-1zM89 790h1v1h-1zM139 790h1v1h-1zM89 791h1v1h-1zM89 792h1v1h-1zM89 793h1v1h-1zM138 793h1v1h-1zM90 794h1v1h-1zM90 795h1v1h-1zM137 795h1v1h-1zM91 796h1v1h-1zM135 796h2v1h-2zM93 797h1v1h-1zM94 798h2v1h-2zM132 798h2v1h-2zM96 799h1v1h-1zM98 799h1v1h-1zM131 799h1v1h-1zM98 800h1v1h-1zM101 800h1v1h-1zM130 800h1v1h-1zM101 801h2v1h-2zM104 801h1v1h-1zM128 801h1v1h-1zM104 802h4v1h-4zM123 802h3v1h-3zM107 803h4v1h-4zM112 803h4v1h-4zM117 803h3v1h-3zM121 803h2v1h-2zM112 804h2v1h-2zM115 804h3v1h-3z" fill="#4664e6"/>
<path d="M100 752h2v1h-2zM94 753h1v1h-1zM100 753h1v1h-1zM102 753h2v1h-2zM105 754h1v1h-1zM93 755h2v1h-2zM105 755h1v1h-1zM92 756h2v1h-2zM93 757h2v1h-2zM104 757h2v1h-2zM95 758h1v1h-1zM96 759h2v1h-2zM99 759h1v1h-1zM103 759h1v1h-1zM114 783h1v1h-1zM118 783h2v1h-2zM121 783h1v1h-1zM123 783h1v1h-1zM104 784h2v1h-2zM111 784h1v1h-1zM114 784h1v1h-1zM116 784h1v1h-1zM118 784h1v1h-1zM120 784h2v1h-2zM125 784h1v1h-1zM127 784h1v1h-1zM129 784h1v1h-1zM101 785h2v1h-2zM105 785h3v1h-3zM110 785h3v1h-3zM129 785h1v1h-1zM93 786h1v1h-1zM98 786h1v1h-1zM102 786h1v1h-1zM104 786h2v1h-2zM132 786h1v1h-1zM134 786h2v1h-2zM134 787h3v1h-3zM91 788h2v1h-2zM136 788h1v1h-1zM139 791h1v1h-1zM91 792h1v1h-1zM138 792h2v1h-2zM90 793h2v1h-2zM136 793h1v1h-1zM91 794h1v1h-1zM135 794h1v1h-1zM137 794h2v1h-2zM134 795h1v1h-1zM93 796h2v1h-2zM133 796h1v1h-1zM92 797h1v1h-1zM95 797h1v1h-1zM130 797h1v1h-1zM134 797h1v1h-1zM100 798h1v1h-1zM128 798h1v1h-1zM97 799h1v1h-1zM101 799h1v1h-1zM104 799h2v1h-2zM129 799h2v1h-2zM99 800h2v1h-2zM102 800h1v1h-1zM106 800h1v1h-1zM122 800h1v1h-1zM124 800h2v1h-2zM128 800h2v1h-2zM103 801h1v1h-1zM106 801h1v1h-1zM108 801h1v1h-1zM112 801h4v1h-4zM119 801h1v1h-1zM123 801h5v1h-5zM108 802h2v1h-2zM111 802h6v1h-6zM120 802h1v1h-1zM122 802h1v1h-1zM126 802h1v1h-1zM111 803h1v1h-1zM116 803h1v1h-1zM120 803h1v1h-1zM123 803h1v1h-1zM114 804h1v1h-1z" fill="#96aaf0"/>
<path d="M102 752h1v1h-1zM111 783h1v1h-1zM125 783h1v1h-1zM134 798h1v1h-1zM129 801h1v1h-1zM127 802h1v1h-1zM105 803h1v1h-1z" fill="#5064f0"/>
<path d="M103 752h1v1h-1zM93 753h1v1h-1zM107 754h1v1h-1zM108 756h1v1h-1zM107 783h1v1h-1zM127 783h1v1h-1zM98 784h1v1h-1zM132 784h1v1h-1zM94 785h1v1h-1zM139 788h1v1h-1zM88 790h1v1h-1zM92 798h1v1h-1zM135 798h1v1h-1zM96 800h1v1h-1zM132 800h1v1h-1zM129 802h1v1h-1zM103 803h1v1h-1zM124 804h1v1h-1zM111 805h9v1h-9z" fill="#5a6ef0"/>
<path d="M104 752h1v1h-1zM108 758h1v1h-1zM107 759h1v1h-1zM95 760h1v1h-1zM98 761h2v1h-2zM102 761h1v1h-1zM104 761h1v1h-1zM111 782h2v1h-2zM114 782h4v1h-4zM119 782h1v1h-1zM122 782h1v1h-1zM102 783h2v1h-2zM129 783h1v1h-1zM96 784h1v1h-1zM133 784h1v1h-1zM93 785h1v1h-1zM91 786h1v1h-1zM88 789h1v1h-1zM87 791h1v1h-1zM87 792h1v1h-1zM141 792h1v1h-1zM140 794h1v1h-1zM88 795h1v1h-1zM139 795h1v1h-1zM89 796h1v1h-1zM138 796h1v1h-1zM137 797h1v1h-1zM136 798h1v1h-1zM93 799h1v1h-1zM133 800h1v1h-1zM96 801h1v1h-1zM132 801h1v1h-1zM98 802h2v1h-2zM131 802h1v1h-1zM101 803h1v1h-1zM128 803h2v1h-2zM104 804h1v1h-1zM126 804h2v1h-2zM107 805h2v1h-2zM122 805h2v1h-2zM113 806h2v1h-2zM117 806h1v1h-1z" fill="#6478f0"/>
<path d="M96 753h1v1h-1zM94 754h1v1h-1zM106 756h1v1h-1zM104 758h1v1h-1zM98 759h1v1h-1zM100 759h3v1h-3zM112 784h2v1h-2zM115 784h1v1h-1zM126 784h1v1h-1zM103 785h2v1h-2zM131 785h1v1h-1zM95 786h2v1h-2zM93 787h1v1h-1zM91 789h1v1h-1zM90 790h1v1h-1zM138 790h1v1h-1zM90 791h1v1h-1zM138 791h1v1h-1zM90 792h1v1h-1zM137 793h1v1h-1zM91 795h1v1h-1zM136 795h1v1h-1zM92 796h1v1h-1zM134 796h1v1h-1zM94 797h1v1h-1zM132 797h2v1h-2zM96 798h2v1h-2zM130 798h2v1h-2zM99 799h2v1h-2zM128 799h1v1h-1zM103 800h2v1h-2zM126 800h2v1h-2zM105 801h1v1h-1zM107 801h1v1h-1zM122 801h1v1h-1zM110 802h1v1h-1zM117 802h3v1h-3zM121 802h1v1h-1z" fill="#3c64e6"/>
<path d="M97 753h3v1h-3zM101 753h1v1h-1zM95 754h1v1h-1zM104 754h1v1h-1zM94 756h1v1h-1zM105 756h1v1h-1zM96 758h1v1h-1zM103 758h1v1h-1zM117 784h1v1h-1zM119 784h1v1h-1zM122 784h3v1h-3zM108 785h2v1h-2zM130 785h1v1h-1zM97 786h1v1h-1zM99 786h3v1h-3zM103 786h1v1h-1zM133 786h1v1h-1zM94 787h2v1h-2zM93 788h1v1h-1zM92 789h1v1h-1zM136 789h2v1h-2zM91 790h1v1h-1zM137 790h1v1h-1zM91 791h1v1h-1zM137 791h1v1h-1zM137 792h1v1h-1zM136 794h1v1h-1zM92 795h1v1h-1zM135 795h1v1h-1zM132 796h1v1h-1zM96 797h1v1h-1zM131 797h1v1h-1zM98 798h2v1h-2zM129 798h1v1h-1zM102 799h2v1h-2zM125 799h3v1h-3zM105 800h1v1h-1zM107 800h3v1h-3zM120 800h2v1h-2zM123 800h1v1h-1zM109 801h3v1h-3zM116 801h3v1h-3zM120 801h2v1h-2z" fill="#3c5ae6"/>
<path d="M110 753h1v1h-1zM96 754h1v1h-1zM103 754h1v1h-1zM103 755h1v1h-1zM112 755h1v1h-1zM95 756h1v1h-1zM113 757h1v1h-1zM97 758h1v1h-1zM99 758h3v1h-3zM90 760h1v1h-1zM92 763h1v1h-1zM115 763h1v1h-1zM93 764h1v1h-1zM93 765h1v1h-1zM114 765h1v1h-1zM97 768h1v1h-1zM112 768h1v1h-1zM110 769h1v1h-1zM104 770h1v1h-1zM110 779h1v1h-1zM101 780h2v1h-2zM125 780h1v1h-1zM130 781h1v1h-1zM113 785h1v1h-1zM115 785h1v1h-1zM118 785h2v1h-2zM123 785h2v1h-2zM126 785h1v1h-1zM111 786h1v1h-1zM130 786h1v1h-1zM104 787h2v1h-2zM135 788h1v1h-1zM135 789h1v1h-1zM92 791h1v1h-1zM136 792h1v1h-1zM135 793h1v1h-1zM93 794h1v1h-1zM132 795h1v1h-1zM96 796h1v1h-1zM102 797h1v1h-1zM127 797h1v1h-1zM103 798h1v1h-1zM108 798h1v1h-1zM126 798h1v1h-1zM107 799h1v1h-1zM110 799h1v1h-1zM119 799h1v1h-1zM112 800h2v1h-2zM116 800h2v1h-2zM91 802h1v1h-1zM92 803h1v1h-1zM136 804h1v1h-1zM98 806h1v1h-1zM132 806h1v1h-1zM111 809h1v1h-1zM119 809h1v1h-1zM121 809h1v1h-1z" fill="#8ca0f0"/>
<path d="M97 754h1v1h-1zM101 754h2v1h-2zM95 755h1v1h-1zM104 755h1v1h-1zM103 756h2v1h-2zM95 757h2v1h-2zM102 757h2v1h-2zM98 758h1v1h-1zM102 758h1v1h-1zM114 785h1v1h-1zM116 785h2v1h-2zM120 785h3v1h-3zM125 785h1v1h-1zM127 785h2v1h-2zM106 786h5v1h-5zM131 786h1v1h-1zM96 787h8v1h-8zM106 787h1v1h-1zM132 787h2v1h-2zM94 788h2v1h-2zM134 788h1v1h-1zM93 789h1v1h-1zM92 790h1v1h-1zM135 790h2v1h-2zM136 791h1v1h-1zM92 792h1v1h-1zM135 792h1v1h-1zM92 793h1v1h-1zM92 794h1v1h-1zM134 794h1v1h-1zM93 795h2v1h-2zM133 795h1v1h-1zM95 796h1v1h-1zM97 796h1v1h-1zM130 796h2v1h-2zM97 797h5v1h-5zM103 797h1v1h-1zM128 797h2v1h-2zM102 798h1v1h-1zM104 798h4v1h-4zM123 798h3v1h-3zM127 798h1v1h-1zM106 799h1v1h-1zM108 799h2v1h-2zM111 799h8v1h-8zM120 799h5v1h-5zM110 800h2v1h-2zM114 800h2v1h-2zM118 800h2v1h-2z" fill="#325ae6"/>
<path d="M98 754h3v1h-3zM96 755h2v1h-2zM101 755h2v1h-2zM96 756h2v1h-2zM101 756h2v1h-2zM97 757h5v1h-5zM113 786h5v1h-5zM127 786h3v1h-3zM108 787h4v1h-4zM131 787h1v1h-1zM97 788h11v1h-11zM133 788h1v1h-1zM95 789h1v1h-1zM134 789h1v1h-1zM94 790h1v1h-1zM134 790h1v1h-1zM93 791h1v1h-1zM134 791h1v1h-1zM93 792h1v1h-1zM134 792h1v1h-1zM93 793h2v1h-2zM133 793h1v1h-1zM94 794h2v1h-2zM132 794h1v1h-1zM96 795h2v1h-2zM130 795h2v1h-2zM98 796h9v1h-9zM127 796h3v1h-3zM105 797h6v1h-6zM122 797h5v1h-5zM110 798h12v1h-12z" fill="#2850e6"/>
<path d="M98 755h1v1h-1zM100 755h1v1h-1zM118 786h1v1h-1zM112 787h1v1h-1zM132 788h1v1h-1zM96 789h1v1h-1zM94 791h1v1h-1zM94 792h1v1h-1zM98 795h1v1h-1zM107 796h1v1h-1zM111 797h2v1h-2zM121 797h1v1h-1z" fill="#1e50dc"/>
<path d="M99 755h1v1h-1zM98 756h3v1h-3zM119 786h2v1h-2zM125 786h2v1h-2zM113 787h1v1h-1zM130 787h1v1h-1zM108 788h2v1h-2zM97 789h1v1h-1zM104 789h1v1h-1zM133 789h1v1h-1zM95 790h1v1h-1zM133 792h1v1h-1zM96 794h1v1h-1zM131 794h1v1h-1zM99 795h6v1h-6zM129 795h1v1h-1zM108 796h1v1h-1zM126 796h1v1h-1zM113 797h8v1h-8z" fill="#1e5adc"/>
<path d="M97 761h1v1h-1zM105 761h1v1h-1zM110 782h1v1h-1zM123 782h1v1h-1zM101 783h1v1h-1zM136 785h1v1h-1zM139 787h1v1h-1zM87 793h1v1h-1zM134 800h1v1h-1zM106 805h1v1h-1zM118 806h2v1h-2z" fill="#6482f0"/>
<path d="M112 786h1v1h-1zM107 787h1v1h-1zM96 788h1v1h-1zM94 789h1v1h-1zM93 790h1v1h-1zM135 791h1v1h-1zM134 793h1v1h-1zM133 794h1v1h-1zM95 795h1v1h-1zM104 797h1v1h-1zM109 798h1v1h-1zM122 798h1v1h-1z" fill="#285ae6"/>
<path d="M121 786h4v1h-4zM114 787h1v1h-1zM110 788h1v1h-1zM98 789h6v1h-6zM105 789h2v1h-2zM133 790h1v1h-1zM95 793h1v1h-1zM132 793h1v1h-1zM105 795h2v1h-2zM109 796h2v1h-2zM125 796h1v1h-1z" fill="#1e64dc"/>
<path d="M115 787h1v1h-1zM129 787h1v1h-1zM111 788h1v1h-1zM131 788h1v1h-1zM107 789h2v1h-2zM96 790h1v1h-1zM95 791h1v1h-1zM133 791h1v1h-1zM95 792h1v1h-1zM97 794h2v1h-2zM103 794h2v1h-2zM130 794h1v1h-1zM107 795h2v1h-2zM128 795h1v1h-1zM111 796h2v1h-2zM123 796h2v1h-2z" fill="#1e6edc"/>
<path d="M116 787h1v1h-1zM112 788h1v1h-1zM109 789h1v1h-1zM132 789h1v1h-1zM97 790h1v1h-1zM102 790h5v1h-5zM96 791h1v1h-1zM96 793h1v1h-1zM99 794h4v1h-4zM105 794h3v1h-3zM109 795h1v1h-1zM127 795h1v1h-1zM113 796h3v1h-3zM121 796h2v1h-2z" fill="#1e78dc"/>
<path d="M117 787h1v1h-1zM128 787h1v1h-1zM113 788h1v1h-1zM110 789h1v1h-1zM98 790h4v1h-4zM107 790h1v1h-1zM103 791h4v1h-4zM96 792h1v1h-1zM104 792h1v1h-1zM132 792h1v1h-1zM97 793h1v1h-1zM102 793h5v1h-5zM131 793h1v1h-1zM108 794h1v1h-1zM129 794h1v1h-1zM110 795h2v1h-2zM126 795h1v1h-1zM116 796h5v1h-5z" fill="#1e82dc"/>
<path d="M118 787h1v1h-1zM108 790h1v1h-1zM132 790h1v1h-1zM97 791h1v1h-1zM102 791h1v1h-1zM132 791h1v1h-1zM103 792h1v1h-1zM105 792h2v1h-2zM98 793h1v1h-1zM100 793h2v1h-2zM107 793h1v1h-1zM109 794h1v1h-1zM112 795h1v1h-1z" fill="#1e8cdc"/>
<path d="M119 787h1v1h-1zM98 791h1v1h-1zM100 791h1v1h-1zM101 792h1v1h-1zM108 793h1v1h-1zM110 794h1v1h-1zM113 795h1v1h-1zM125 795h1v1h-1z" fill="#1e96d2"/>
<path d="M120 787h1v1h-1zM131 789h1v1h-1zM99 791h1v1h-1zM108 791h1v1h-1zM98 792h3v1h-3zM108 792h1v1h-1zM109 793h1v1h-1zM130 793h1v1h-1zM128 794h1v1h-1zM114 795h1v1h-1zM124 795h1v1h-1z" fill="#1e96c8"/>
<path d="M121 787h1v1h-1zM126 787h1v1h-1zM109 791h1v1h-1zM109 792h1v1h-1zM131 792h1v1h-1zM111 794h1v1h-1zM115 795h2v1h-2zM123 795h1v1h-1z" fill="#1ea0be"/>
<path d="M122 787h4v1h-4zM116 788h1v1h-1zM129 788h1v1h-1zM113 789h1v1h-1zM111 790h1v1h-1zM110 791h1v1h-1zM118 795h5v1h-5z" fill="#1eaab4"/>
<path d="M127 787h1v1h-1zM114 788h1v1h-1zM130 788h1v1h-1zM111 789h1v1h-1zM109 790h1v1h-1zM101 791h1v1h-1zM107 791h1v1h-1zM97 792h1v1h-1zM102 792h1v1h-1zM107 792h1v1h-1zM99 793h1v1h-1z" fill="#1e8cd2"/>
<path d="M115 788h1v1h-1zM112 789h1v1h-1zM110 790h1v1h-1z" fill="#1ea0c8"/>
<path d="M117 788h1v1h-1zM114 789h1v1h-1zM130 789h1v1h-1zM112 790h1v1h-1zM111 791h1v1h-1zM111 792h1v1h-1zM112 793h1v1h-1zM129 793h1v1h-1zM114 794h1v1h-1z" fill="#28b4a0"/>
<path d="M118 788h1v1h-1zM130 792h1v1h-1zM115 794h1v1h-1zM126 794h1v1h-1z" fill="#28be96"/>
<path d="M119 788h1v1h-1zM113 791h1v1h-1zM113 792h1v1h-1zM114 793h1v1h-1zM128 793h1v1h-1zM117 794h1v1h-1z" fill="#3cc878"/>
<path d="M120 788h1v1h-1zM127 788h1v1h-1zM129 789h1v1h-1zM114 791h1v1h-1zM114 792h1v1h-1zM120 794h3v1h-3z" fill="#50c85a"/>
<path d="M121 788h1v1h-1zM127 793h1v1h-1z" fill="#64d246"/>
<path d="M122 788h1v1h-1zM118 789h1v1h-1zM116 790h1v1h-1zM117 793h1v1h-1z" fill="#6ed232"/>
<path d="M123 788h2v1h-2zM129 790h1v1h-1zM126 793h1v1h-1z" fill="#82d228"/>
<path d="M125 788h1v1h-1z" fill="#78d232"/>
<path d="M126 788h1v1h-1zM115 792h1v1h-1z" fill="#64d23c"/>
<path d="M128 788h1v1h-1zM115 789h1v1h-1zM112 792h1v1h-1zM113 793h1v1h-1zM116 794h1v1h-1z" fill="#32be8c"/>
<path d="M116 789h1v1h-1zM114 790h1v1h-1zM130 790h1v1h-1zM118 794h1v1h-1zM124 794h1v1h-1z" fill="#46c86e"/>
<path d="M117 789h1v1h-1zM115 790h1v1h-1zM129 792h1v1h-1zM116 793h1v1h-1z" fill="#5ac850"/>
<path d="M119 789h1v1h-1zM117 792h1v1h-1z" fill="#96d228"/>
<path d="M120 789h1v1h-1zM118 790h1v1h-1zM118 792h1v1h-1zM122 793h3v1h-3z" fill="#b4dc1e"/>
<path d="M121 789h1v1h-1zM119 790h1v1h-1z" fill="#d2d214"/>
<path d="M122 789h1v1h-1zM120 790h1v1h-1zM126 792h1v1h-1z" fill="#e6be14"/>
<path d="M123 789h1v1h-1zM125 789h1v1h-1zM127 791h1v1h-1z" fill="#f0b414"/>
<path d="M124 789h1v1h-1zM127 790h1v1h-1zM120 791h1v1h-1zM122 792h1v1h-1zM125 792h1v1h-1z" fill="#f0aa14"/>
<path d="M126 789h1v1h-1z" fill="#e6c814"/>
<path d="M127 789h1v1h-1zM118 791h1v1h-1zM127 792h1v1h-1z" fill="#c8dc14"/>
<path d="M128 789h1v1h-1zM117 790h1v1h-1zM116 791h1v1h-1zM129 791h1v1h-1zM128 792h1v1h-1zM119 793h1v1h-1z" fill="#8cd228"/>
<path d="M113 790h1v1h-1zM112 791h1v1h-1z" fill="#28be8c"/>
<path d="M121 790h1v1h-1zM123 792h2v1h-2z" fill="#faa014"/>
<path d="M122 790h1v1h-1zM126 790h1v1h-1zM126 791h1v1h-1z" fill="#fa8214"/>
<path d="M123 790h1v1h-1zM125 790h1v1h-1zM123 791h1v1h-1zM125 791h1v1h-1z" fill="#f06414"/>
<path d="M124 790h1v1h-1zM124 791h1v1h-1z" fill="#f05a14"/>
<path d="M128 790h1v1h-1zM128 791h1v1h-1zM119 792h1v1h-1z" fill="#d2dc14"/>
<path d="M131 790h1v1h-1zM110 792h1v1h-1zM111 793h1v1h-1zM113 794h1v1h-1zM127 794h1v1h-1z" fill="#1eaaaa"/>
<path d="M115 791h1v1h-1z" fill="#6ed23c"/>
<path d="M117 791h1v1h-1zM121 793h1v1h-1z" fill="#aadc1e"/>
<path d="M119 791h1v1h-1zM120 792h1v1h-1z" fill="#dcc814"/>
<path d="M121 791h1v1h-1z" fill="#fa8c14"/>
<path d="M122 791h1v1h-1z" fill="#f07814"/>
<path d="M130 791h1v1h-1zM119 794h1v1h-1z" fill="#46c864"/>
<path d="M131 791h1v1h-1z" fill="#28aaaa"/>
<path d="M116 792h1v1h-1zM118 793h1v1h-1z" fill="#82d232"/>
<path d="M121 792h1v1h-1z" fill="#e6b414"/>
<path d="M110 793h1v1h-1zM112 794h1v1h-1zM117 795h1v1h-1z" fill="#1ea0b4"/>
<path d="M115 793h1v1h-1zM123 794h1v1h-1z" fill="#50c864"/>
<path d="M120 793h1v1h-1z" fill="#a0dc1e"/>
<path d="M125 793h1v1h-1z" fill="#a0d228"/>
<path d="M125 794h1v1h-1z" fill="#32be82"/>
<path d="M101 798h1v1h-1z" fill="#8caaf0"/>
<path d="M82.1,754.9H84.6 M82.1,756.9H84.6 M82.1,758.9H84.6 M81.8,761.6H84.6 M82.1,764.4H84.6 M81.1,769.8H84.6 M82.1,777.9H84.6 M81.1,784.7H84.6 M82.1,792.1H84.6 M81.6,798.2H84.6 M81.1,801.6H84.6 M81.1,804.4H84.6 M81.1,806.4H84.6 M81.1,808.4H84.6 M81.1,810.5H84.6 M81.1,812.5H84.6 M87.4,815.2V817.7 M90.1,815.2V818.2 M92.2,815.2V818.2 M94.2,815.2V818.2 M98.4,815.2V817.7 M102.5,815.2V817.7 M106.0,815.2V818.2 M109.4,815.2V818.2 M113.5,815.2V818.2 M116.3,815.2V817.7 M119.0,815.2V818.2 M122.5,815.2V817.7 M125.9,815.2V818.2 M130.1,815.2V818.2 M133.5,815.2V818.2 M136.3,815.2V817.7 M139.7,815.2V818.2 M143.9,815.2V817.7 M148.0,815.2V818.2 M150.7,815.2V817.7" stroke="#111" stroke-width="0.9" fill="none"/>
<rect x="84.6" y="747.4" width="68.9" height="67.80000000000007" fill="none" stroke="#111" stroke-width="1.3"/>
<text x="20" y="762.2" font-size="10" textLength="56.6" lengthAdjust="spacingAndGlyphs" fill="#1a1a1a" stroke="#1a1a1a" stroke-width="0.17">CD3<tspan font-size="7.5" dy="-4">+</tspan><tspan dy="4">, CD4</tspan><tspan font-size="7.5" dy="-4">+</tspan></text>
<text transform="translate(75.2,782.2) rotate(-90)" font-size="10" text-anchor="middle" textLength="18.7" lengthAdjust="spacingAndGlyphs" fill="#1a1a1a" stroke="#1a1a1a" stroke-width="0.17">CD7</text>
<text x="118.9" y="832.8" font-size="10" text-anchor="middle" textLength="35.3" lengthAdjust="spacingAndGlyphs" fill="#1a1a1a" stroke="#1a1a1a" stroke-width="0.17">CADM1</text>
<path d="M347 749h1v1h-1zM336 750h1v1h-1zM360 750h1v1h-1zM316 752h1v1h-1zM380 756h1v1h-1zM322 757h1v1h-1zM379 760h1v1h-1zM320 762h1v1h-1zM325 766h1v1h-1zM327 766h1v1h-1zM348 766h1v1h-1zM354 768h1v1h-1zM325 769h1v1h-1zM359 769h1v1h-1zM368 771h1v1h-1zM376 771h1v1h-1zM363 772h1v1h-1zM379 775h1v1h-1zM378 776h1v1h-1zM321 778h1v1h-1zM318 781h1v1h-1zM383 793h1v1h-1zM376 798h1v1h-1zM322 801h1v1h-1zM376 802h1v1h-1zM326 805h1v1h-1zM331 807h1v1h-1zM364 809h2v1h-2zM344 810h1v1h-1zM355 810h1v1h-1zM369 810h1v1h-1zM343 811h1v1h-1zM349 811h1v1h-1zM346 812h1v1h-1zM355 813h1v1h-1zM360 815h1v1h-1zM363 815h1v1h-1z" fill="#bebef0"/>
<path d="M337 771h1v1h-1zM345 771h1v1h-1zM359 771h1v1h-1zM361 773h1v1h-1zM365 773h2v1h-2zM365 774h1v1h-1zM333 775h1v1h-1zM337 775h1v1h-1zM357 775h1v1h-1zM331 776h1v1h-1zM365 776h1v1h-1zM369 776h1v1h-1zM364 777h1v1h-1zM326 779h1v1h-1zM326 781h1v1h-1zM374 782h1v1h-1zM325 784h1v1h-1zM376 792h1v1h-1zM323 795h1v1h-1zM377 795h1v1h-1zM375 797h1v1h-1zM325 798h1v1h-1zM377 798h1v1h-1zM372 800h1v1h-1zM359 804h1v1h-1zM347 805h1v1h-1zM360 805h1v1h-1zM358 806h1v1h-1zM342 807h1v1h-1zM344 807h1v1h-1zM343 808h1v1h-1zM350 809h1v1h-1zM353 810h1v1h-1z" fill="#b4b4f0"/>
<path d="M333 773h1v1h-1z" fill="#beb4f0"/>
<path d="M346 774h1v1h-1zM350 774h1v1h-1zM345 775h1v1h-1zM348 775h1v1h-1zM364 776h1v1h-1zM342 779h1v1h-1zM373 788h1v1h-1zM325 791h2v1h-2zM375 795h1v1h-1zM328 796h1v1h-1z" fill="#aaa0e6"/>
<path d="M363 774h1v1h-1zM338 775h1v1h-1zM333 776h1v1h-1zM337 776h1v1h-1zM367 778h1v1h-1zM332 781h1v1h-1zM376 790h1v1h-1zM323 791h1v1h-1zM324 792h1v1h-1zM374 793h1v1h-1zM374 794h2v1h-2zM372 797h1v1h-1zM326 798h1v1h-1zM330 800h1v1h-1zM370 800h1v1h-1zM339 801h1v1h-1zM342 804h1v1h-1zM361 804h1v1h-1zM351 806h1v1h-1z" fill="#aaaaf0"/>
<path d="M349 776h1v1h-1zM359 777h1v1h-1zM361 777h1v1h-1zM363 777h1v1h-1zM346 778h1v1h-1zM361 778h1v1h-1zM345 779h1v1h-1zM354 779h1v1h-1zM361 779h1v1h-1zM331 780h1v1h-1zM333 780h1v1h-1zM342 780h1v1h-1zM331 781h1v1h-1zM340 781h1v1h-1zM344 781h1v1h-1zM335 782h1v1h-1zM339 782h1v1h-1zM346 782h1v1h-1zM373 782h1v1h-1zM332 783h1v1h-1zM334 783h1v1h-1zM372 783h1v1h-1zM370 784h1v1h-1zM372 785h1v1h-1zM326 787h1v1h-1zM375 788h1v1h-1zM326 789h1v1h-1zM374 791h1v1h-1zM329 794h1v1h-1zM372 796h1v1h-1zM328 797h1v1h-1zM341 798h1v1h-1zM343 798h1v1h-1zM350 798h1v1h-1zM368 798h1v1h-1zM333 799h1v1h-1zM339 799h1v1h-1zM370 799h1v1h-1zM358 800h1v1h-1zM336 801h1v1h-1zM348 801h1v1h-1zM352 801h1v1h-1zM363 801h1v1h-1zM351 802h1v1h-1zM354 802h1v1h-1zM361 802h1v1h-1zM336 803h1v1h-1zM358 803h2v1h-2z" fill="#a0a0e6"/>
<path d="M350 776h1v1h-1zM355 776h1v1h-1zM363 776h1v1h-1zM333 778h1v1h-1zM347 778h1v1h-1zM363 778h1v1h-1zM366 778h1v1h-1zM331 779h1v1h-1zM336 780h1v1h-1zM373 781h1v1h-1zM371 783h1v1h-1zM373 785h1v1h-1zM325 786h1v1h-1zM374 786h1v1h-1zM328 793h1v1h-1zM329 796h1v1h-1zM373 797h1v1h-1zM342 801h1v1h-1zM351 801h1v1h-1zM350 802h1v1h-1zM352 804h1v1h-1zM351 805h1v1h-1zM356 806h1v1h-1z" fill="#aaaae6"/>
<path d="M354 777h1v1h-1zM338 781h1v1h-1zM331 782h1v1h-1zM329 786h1v1h-1zM335 787h1v1h-1zM335 788h1v1h-1zM332 789h1v1h-1zM338 790h1v1h-1zM373 790h1v1h-1zM373 792h1v1h-1zM341 793h1v1h-1zM343 794h1v1h-1zM367 794h1v1h-1zM340 795h1v1h-1zM370 796h1v1h-1zM330 797h1v1h-1zM341 800h1v1h-1z" fill="#968ce6"/>
<path d="M358 777h1v1h-1zM343 778h2v1h-2zM353 778h1v1h-1zM360 778h1v1h-1zM349 780h1v1h-1zM343 781h1v1h-1zM350 781h1v1h-1zM364 781h1v1h-1zM347 783h1v1h-1zM330 784h2v1h-2zM336 784h1v1h-1zM336 785h1v1h-1zM338 785h1v1h-1zM340 785h1v1h-1zM342 785h1v1h-1zM348 785h1v1h-1zM370 785h1v1h-1zM336 786h1v1h-1zM332 787h1v1h-1zM372 789h1v1h-1zM327 791h1v1h-1zM332 793h2v1h-2zM340 793h1v1h-1zM331 794h1v1h-1zM369 794h1v1h-1zM338 796h1v1h-1zM336 797h1v1h-1zM353 797h1v1h-1zM366 797h1v1h-1zM368 797h1v1h-1zM333 798h1v1h-1zM351 798h1v1h-1zM363 799h1v1h-1zM347 800h1v1h-1zM344 801h1v1h-1zM349 801h1v1h-1z" fill="#9696e6"/>
<path d="M349 778h1v1h-1zM365 780h1v1h-1zM335 781h1v1h-1zM354 781h1v1h-1zM355 784h2v1h-2zM331 785h1v1h-1zM338 787h1v1h-1zM371 787h1v1h-1zM343 788h1v1h-1zM334 789h1v1h-1zM343 789h1v1h-1zM342 790h1v1h-1zM334 793h1v1h-1zM344 794h1v1h-1zM371 794h1v1h-1zM344 795h1v1h-1zM359 797h1v1h-1zM349 800h1v1h-1zM354 800h1v1h-1zM361 800h1v1h-1z" fill="#8c8ce6"/>
<path d="M356 778h1v1h-1zM365 779h1v1h-1zM362 781h1v1h-1zM352 785h1v1h-1zM331 786h1v1h-1zM334 786h1v1h-1zM346 786h1v1h-1zM349 792h1v1h-1zM371 793h1v1h-1zM346 794h1v1h-1zM372 794h1v1h-1zM369 795h1v1h-1zM337 796h1v1h-1zM351 796h1v1h-1zM338 798h1v1h-1zM360 799h1v1h-1z" fill="#8c8cdc"/>
<path d="M362 780h1v1h-1zM352 782h1v1h-1zM365 782h1v1h-1zM364 783h1v1h-1zM367 783h1v1h-1zM341 785h1v1h-1zM360 785h1v1h-1zM343 786h1v1h-1zM345 786h1v1h-1zM349 786h1v1h-1zM333 789h1v1h-1zM333 791h1v1h-1zM343 792h1v1h-1zM339 793h1v1h-1zM354 794h1v1h-1zM332 795h1v1h-1zM362 795h1v1h-1zM369 796h1v1h-1zM345 797h1v1h-1zM364 797h2v1h-2zM359 798h1v1h-1z" fill="#8278dc"/>
<path d="M363 780h1v1h-1zM344 783h1v1h-1zM355 783h1v1h-1zM341 784h1v1h-1zM350 784h1v1h-1zM354 784h1v1h-1zM361 785h1v1h-1zM343 787h3v1h-3zM350 788h1v1h-1zM353 788h2v1h-2zM364 788h1v1h-1zM368 788h1v1h-1zM337 789h1v1h-1zM355 789h1v1h-1zM339 790h1v1h-1zM348 790h1v1h-1zM342 791h1v1h-1zM364 791h1v1h-1zM348 792h1v1h-1zM336 793h1v1h-1zM338 793h1v1h-1zM346 793h1v1h-1zM355 793h1v1h-1zM350 794h1v1h-1zM360 794h1v1h-1zM341 795h1v1h-1zM347 795h1v1h-1zM347 796h1v1h-1zM363 797h1v1h-1zM358 799h1v1h-1z" fill="#7878dc"/>
<path d="M348 781h1v1h-1zM358 781h1v1h-1zM360 782h1v1h-1zM335 783h1v1h-1zM340 783h1v1h-1zM333 785h1v1h-1zM346 785h1v1h-1zM357 785h1v1h-1zM337 786h1v1h-1zM370 786h1v1h-1zM371 788h1v1h-1zM345 790h1v1h-1zM354 790h1v1h-1zM332 791h1v1h-1zM340 791h1v1h-1zM344 793h1v1h-1zM357 793h1v1h-1zM360 793h1v1h-1zM334 794h1v1h-1zM336 794h1v1h-1zM370 794h1v1h-1zM358 795h1v1h-1zM370 795h1v1h-1zM332 797h1v1h-1zM335 797h1v1h-1zM352 797h1v1h-1zM361 797h1v1h-1zM362 798h1v1h-1z" fill="#8282dc"/>
<path d="M351 782h1v1h-1zM347 784h1v1h-1zM351 784h1v1h-1zM362 784h2v1h-2zM360 786h1v1h-1zM368 786h1v1h-1zM348 787h1v1h-1zM362 787h1v1h-1zM369 787h1v1h-1zM350 789h1v1h-1zM361 789h1v1h-1zM335 793h1v1h-1zM349 793h1v1h-1zM351 793h1v1h-1zM365 793h1v1h-1zM350 795h1v1h-1zM352 795h1v1h-1zM367 796h1v1h-1zM361 798h1v1h-1z" fill="#6e6ed2"/>
<path d="M357 782h1v1h-1zM350 785h1v1h-1zM340 786h1v1h-1zM347 787h1v1h-1zM349 787h1v1h-1zM337 790h1v1h-1zM366 790h1v1h-1zM358 791h1v1h-1zM363 792h1v1h-1zM349 795h1v1h-1zM353 795h1v1h-1z" fill="#786edc"/>
<path d="M359 782h1v1h-1zM359 784h1v1h-1zM362 785h1v1h-1zM359 786h1v1h-1zM360 788h1v1h-1zM339 789h1v1h-1zM341 790h1v1h-1zM362 793h1v1h-1zM365 794h1v1h-1zM360 795h1v1h-1zM366 796h1v1h-1z" fill="#6e64d2"/>
<path d="M328 783h1v1h-1zM344 785h1v1h-1zM333 786h1v1h-1zM330 796h1v1h-1zM347 798h1v1h-1zM337 799h1v1h-1zM364 800h1v1h-1zM341 802h1v1h-1z" fill="#a096e6"/>
<path d="M350 783h1v1h-1zM348 784h1v1h-1zM369 785h1v1h-1zM342 787h1v1h-1zM349 789h1v1h-1zM341 791h1v1h-1zM362 791h1v1h-1zM345 794h1v1h-1zM354 796h1v1h-1zM356 796h1v1h-1zM357 797h1v1h-1z" fill="#6e6edc"/>
<path d="M357 783h1v1h-1zM356 785h1v1h-1zM351 786h1v1h-1zM367 786h1v1h-1zM365 787h1v1h-1zM335 789h1v1h-1zM349 791h1v1h-1zM360 791h1v1h-1zM354 792h1v1h-1zM358 793h2v1h-2zM359 794h1v1h-1z" fill="#6464d2"/>
<path d="M366 783h1v1h-1zM347 786h1v1h-1zM370 787h1v1h-1zM335 792h1v1h-1zM340 792h1v1h-1zM345 792h1v1h-1zM346 795h1v1h-1z" fill="#8c82dc"/>
<path d="M358 784h1v1h-1zM364 784h1v1h-1zM355 786h1v1h-1zM356 787h1v1h-1zM355 792h1v1h-1zM367 792h1v1h-1zM355 794h1v1h-1zM364 795h1v1h-1zM357 796h1v1h-1z" fill="#5a5ad2"/>
<path d="M360 784h1v1h-1zM354 785h1v1h-1zM361 786h1v1h-1zM363 786h1v1h-1zM357 787h1v1h-1zM359 787h1v1h-1zM363 787h1v1h-1zM366 787h1v1h-1zM351 788h1v1h-1zM356 788h1v1h-1zM363 788h1v1h-1zM352 789h1v1h-1zM356 789h1v1h-1zM359 789h1v1h-1zM362 789h1v1h-1zM366 789h1v1h-1zM355 790h1v1h-1zM358 790h3v1h-3zM357 791h1v1h-1zM359 791h1v1h-1zM363 791h1v1h-1zM361 792h1v1h-1zM361 793h1v1h-1zM363 793h1v1h-1zM361 794h1v1h-1zM357 795h1v1h-1z" fill="#5050c8"/>
<path d="M363 785h1v1h-1zM366 786h1v1h-1zM352 787h1v1h-1zM358 789h1v1h-1zM350 790h1v1h-1zM351 791h1v1h-1zM352 792h2v1h-2zM369 792h1v1h-1zM357 794h1v1h-1z" fill="#645ad2"/>
<path d="M364 785h1v1h-1zM362 788h1v1h-1zM356 793h1v1h-1zM362 794h1v1h-1z" fill="#964682"/>
<path d="M378 788h1v1h-1zM335 804h1v1h-1z" fill="#b4aaf0"/>
<path d="M363 790h1v1h-1zM363 794h1v1h-1zM363 795h1v1h-1zM360 796h1v1h-1z" fill="#5a50d2"/>
<path d="M313.1,755.8H315.6 M313.1,757.8H315.6 M313.1,759.8H315.6 M312.8,762.6H315.6 M313.1,765.3H315.6 M312.1,770.7H315.6 M313.1,778.9H315.6 M312.1,785.6H315.6 M313.1,793.1H315.6 M312.6,799.2H315.6 M312.1,802.6H315.6 M312.1,805.3H315.6 M312.1,807.4H315.6 M312.1,809.4H315.6 M312.1,811.4H315.6 M312.1,813.5H315.6 M318.3,816.2V818.7 M321.1,816.2V819.2 M323.1,816.2V819.2 M325.2,816.2V819.2 M329.3,816.2V818.7 M333.4,816.2V818.7 M336.8,816.2V819.2 M340.2,816.2V819.2 M344.3,816.2V819.2 M347.0,816.2V818.7 M349.8,816.2V819.2 M353.2,816.2V818.7 M356.6,816.2V819.2 M360.7,816.2V819.2 M364.1,816.2V819.2 M366.8,816.2V818.7 M370.2,816.2V819.2 M374.3,816.2V818.7 M378.4,816.2V819.2 M381.2,816.2V818.7" stroke="#111" stroke-width="0.9" fill="none"/>
<rect x="315.6" y="748.3" width="68.29999999999995" height="67.90000000000009" fill="none" stroke="#111" stroke-width="1.3"/>
<text x="238.3" y="754.8" font-size="10" textLength="68" lengthAdjust="spacingAndGlyphs" fill="#1a1a1a" stroke="#1a1a1a" stroke-width="0.17">Human CD45<tspan font-size="6.5" dy="-3.8">+</tspan><tspan dy="3.8">,</tspan></text>
<text x="238.3" y="766.9" font-size="10" textLength="60" lengthAdjust="spacingAndGlyphs" fill="#1a1a1a" stroke="#1a1a1a" stroke-width="0.17">Mouse CD45<tspan font-size="6.5" dy="-3.8">-</tspan></text>
<text transform="translate(305.5,782.8) rotate(-90)" font-size="10" text-anchor="middle" textLength="18.2" lengthAdjust="spacingAndGlyphs" fill="#1a1a1a" stroke="#1a1a1a" stroke-width="0.17">CD7</text>
<text x="349" y="833.9" font-size="10" text-anchor="middle" textLength="36.3" lengthAdjust="spacingAndGlyphs" fill="#1a1a1a" stroke="#1a1a1a" stroke-width="0.17">CADM1</text>
<line x1="405.6" y1="771" x2="392" y2="771" stroke="#111" stroke-width="1.1" stroke-dasharray="2,1.6"/>
<path d="M395.6,768.2 L389.4,771 L395.6,773.8 L393.8,771 Z" fill="#111"/>
<defs><linearGradient id="bg1" x1="0" y1="0" x2="0" y2="1"><stop offset="0" stop-color="#4272d0"/><stop offset="1" stop-color="#4670cc"/></linearGradient><radialGradient id="tum1" cx="0.55" cy="0.38" r="0.65"><stop offset="0" stop-color="#f8e4c8"/><stop offset="0.45" stop-color="#f2cfa8"/><stop offset="0.8" stop-color="#e6a880"/><stop offset="1" stop-color="#cc7a5c"/></radialGradient><radialGradient id="tum2" cx="0.5" cy="0.45" r="0.6"><stop offset="0" stop-color="#f0c2a4"/><stop offset="0.7" stop-color="#e4a88a"/><stop offset="1" stop-color="#b86e66"/></radialGradient><filter id="blur1" x="-20%" y="-20%" width="140%" height="140%"><feGaussianBlur stdDeviation="0.6"/></filter></defs>
<rect x="410" y="748.8" width="56.2" height="67.8" fill="url(#bg1)"/>
<path d="M417.5,754.4 C421,752 424,751.3 427.5,751.2 C431,750.8 434.5,750.4 437.5,750.6 C440,750.8 441.8,751.5 442.5,752.5 C443,753.6 443.3,755 443.8,755.6 C445,754.6 446.8,753.3 448.7,753.1 C451.5,752.9 453.7,753.8 455,755 C457.2,757 458.8,760 458.8,763.8 C459,767 458.6,770.5 458.1,773.8 C457.6,777 456.6,779.5 455,781.3 C453,783.6 451,785.3 448.7,786.3 C446.5,787.4 444.2,788.3 442.5,788.1 C440.8,787.9 439.7,786.2 438.8,785 C436,784.2 433,783.8 430,783.8 C427,784 423.3,785.4 420,785 C417.5,784.6 415.8,780 415,776.3 C414.2,772.6 413.6,768.5 413.8,765 C414,762 414.5,760.5 415.6,758.8 C416.2,757 416.6,755.5 417.5,754.4 Z" fill="#2e4f9a" opacity="0.55" transform="translate(1.6,1.4)" filter="url(#blur1)"/>
<clipPath id="tumclip"><path d="M417.5,754.4 C421,752 424,751.3 427.5,751.2 C431,750.8 434.5,750.4 437.5,750.6 C440,750.8 441.8,751.5 442.5,752.5 C443,753.6 443.3,755 443.8,755.6 C445,754.6 446.8,753.3 448.7,753.1 C451.5,752.9 453.7,753.8 455,755 C457.2,757 458.8,760 458.8,763.8 C459,767 458.6,770.5 458.1,773.8 C457.6,777 456.6,779.5 455,781.3 C453,783.6 451,785.3 448.7,786.3 C446.5,787.4 444.2,788.3 442.5,788.1 C440.8,787.9 439.7,786.2 438.8,785 C436,784.2 433,783.8 430,783.8 C427,784 423.3,785.4 420,785 C417.5,784.6 415.8,780 415,776.3 C414.2,772.6 413.6,768.5 413.8,765 C414,762 414.5,760.5 415.6,758.8 C416.2,757 416.6,755.5 417.5,754.4 Z"/></clipPath>
<path d="M417.5,754.4 C421,752 424,751.3 427.5,751.2 C431,750.8 434.5,750.4 437.5,750.6 C440,750.8 441.8,751.5 442.5,752.5 C443,753.6 443.3,755 443.8,755.6 C445,754.6 446.8,753.3 448.7,753.1 C451.5,752.9 453.7,753.8 455,755 C457.2,757 458.8,760 458.8,763.8 C459,767 458.6,770.5 458.1,773.8 C457.6,777 456.6,779.5 455,781.3 C453,783.6 451,785.3 448.7,786.3 C446.5,787.4 444.2,788.3 442.5,788.1 C440.8,787.9 439.7,786.2 438.8,785 C436,784.2 433,783.8 430,783.8 C427,784 423.3,785.4 420,785 C417.5,784.6 415.8,780 415,776.3 C414.2,772.6 413.6,768.5 413.8,765 C414,762 414.5,760.5 415.6,758.8 C416.2,757 416.6,755.5 417.5,754.4 Z" fill="url(#tum1)"/>
<filter id="tex1" x="0" y="0" width="100%" height="100%"><feTurbulence type="fractalNoise" baseFrequency="0.2" numOctaves="2" seed="4"/><feColorMatrix type="matrix" values="0 0 0 0 0.82  0 0 0 0 0.42  0 0 0 0 0.30  3.4 0 0 0 -1.6"/></filter>
<filter id="tex2" x="0" y="0" width="100%" height="100%"><feTurbulence type="fractalNoise" baseFrequency="0.25" numOctaves="2" seed="9"/><feColorMatrix type="matrix" values="0 0 0 0 1  0 0 0 0 0.96  0 0 0 0 0.9  0 3.0 0 0 -1.45"/></filter>
<g clip-path="url(#tumclip)" filter="url(#blur1)"><ellipse cx="418" cy="771" rx="4" ry="8" fill="#d0704f" opacity="0.7"/><ellipse cx="427" cy="781" rx="7" ry="3.5" fill="#d47a58" opacity="0.6"/><ellipse cx="451" cy="781" rx="6" ry="4" fill="#cf7454" opacity="0.55"/><ellipse cx="423" cy="756" rx="5" ry="3" fill="#dd8c66" opacity="0.6"/><ellipse cx="434" cy="760" rx="6" ry="5" fill="#fbecd4" opacity="0.7"/><ellipse cx="449" cy="766" rx="5" ry="6" fill="#f8e6cc" opacity="0.6"/><ellipse cx="440" cy="774" rx="4" ry="3" fill="#f6e0c4" opacity="0.5"/></g>
<g clip-path="url(#tumclip)"><rect x="412" y="749" width="49" height="41" filter="url(#tex1)" opacity="0.85"/><rect x="412" y="749" width="49" height="41" filter="url(#tex2)" opacity="0.9"/></g>
<g clip-path="url(#tumclip)"><path d="M417.5,754.4 C421,752 424,751.3 427.5,751.2 C431,750.8 434.5,750.4 437.5,750.6 C440,750.8 441.8,751.5 442.5,752.5 C443,753.6 443.3,755 443.8,755.6 C445,754.6 446.8,753.3 448.7,753.1 C451.5,752.9 453.7,753.8 455,755 C457.2,757 458.8,760 458.8,763.8 C459,767 458.6,770.5 458.1,773.8 C457.6,777 456.6,779.5 455,781.3 C453,783.6 451,785.3 448.7,786.3 C446.5,787.4 444.2,788.3 442.5,788.1 C440.8,787.9 439.7,786.2 438.8,785 C436,784.2 433,783.8 430,783.8 C427,784 423.3,785.4 420,785 C417.5,784.6 415.8,780 415,776.3 C414.2,772.6 413.6,768.5 413.8,765 C414,762 414.5,760.5 415.6,758.8 C416.2,757 416.6,755.5 417.5,754.4 Z" fill="none" stroke="#b8644c" stroke-width="2.2" opacity="0.55" filter="url(#blur1)"/></g>
<circle cx="461.2" cy="772.6" r="0.9" fill="#fff"/>
<rect x="410" y="795" width="56.2" height="6.6" fill="#4d70c4"/>
<rect x="410" y="801.5" width="56.2" height="4.9" fill="#7590d8"/>
<path d="M411.41,795.3v3.8 M413.44,795.3v3.8 M415.47,795.3v3.8 M417.50,795.3v10.5 M419.53,795.3v3.8 M421.56,795.3v3.8 M423.59,795.3v3.8 M425.62,795.3v3.8 M427.65,795.3v6 M429.68,795.3v3.8 M431.71,795.3v3.8 M433.74,795.3v3.8 M435.77,795.3v3.8 M437.80,795.3v10.5 M439.83,795.3v3.8 M441.86,795.3v3.8 M443.89,795.3v3.8 M445.92,795.3v3.8 M447.95,795.3v6 M449.98,795.3v3.8 M452.01,795.3v3.8 M454.04,795.3v3.8 M456.07,795.3v3.8 M458.10,795.3v10.5 M460.13,795.3v3.8 M462.16,795.3v3.8 M464.19,795.3v3.8" stroke="#1c2448" stroke-width="0.8"/>
<rect x="410" y="806.3" width="56.2" height="10.3" fill="#171717"/>
<text x="417.5" y="815.2" font-size="10.5" text-anchor="middle" fill="#8e9494" stroke="#8e9494" stroke-width="0.17">2</text>
<text x="437.8" y="815.2" font-size="10.5" text-anchor="middle" fill="#8e9494" stroke="#8e9494" stroke-width="0.17">3</text>
<text x="458.1" y="815.2" font-size="10.5" text-anchor="middle" fill="#8e9494" stroke="#8e9494" stroke-width="0.17">4</text>
<rect x="473" y="749" width="38.1" height="67.6" fill="#3f79de"/>
<ellipse cx="493.5" cy="778.8" rx="12.2" ry="7.2" fill="#2d3f70" opacity="0.7"/>
<path d="M482,779 C482,774 487,772.5 492,772.5 C498,772 503.5,773 504.5,777 C505.5,781 502,785 497,785 C492,785 489,784.5 486,784 C483,783 482,781 482,779 Z" fill="url(#tum2)" stroke="#3a3550" stroke-width="0.7" stroke-opacity="0.75"/>
<rect x="473" y="795" width="38.1" height="6.6" fill="#5a80d8"/>
<rect x="473" y="801.5" width="38.1" height="5" fill="#8aa2e0"/>
<path d="M475.13,795.3v3.8 M477.10,795.3v10.5 M479.07,795.3v3.8 M481.04,795.3v3.8 M483.01,795.3v3.8 M484.98,795.3v3.8 M486.95,795.3v6 M488.92,795.3v3.8 M490.89,795.3v3.8 M492.86,795.3v3.8 M494.83,795.3v3.8 M496.80,795.3v10.5 M498.77,795.3v3.8 M500.74,795.3v3.8 M502.71,795.3v3.8 M504.68,795.3v3.8 M506.65,795.3v6 M508.62,795.3v3.8 M510.59,795.3v3.8" stroke="#243058" stroke-width="0.75"/>
<rect x="473" y="806.5" width="38.1" height="10.1" fill="#2a2a1c"/>
<rect x="473" y="806.5" width="9.5" height="10.1" fill="#a9b3c8"/>
<text x="477.6" y="815.5" font-size="10" text-anchor="middle" fill="#111" stroke="#111" stroke-width="0.17">0</text>
<text x="496.8" y="815.5" font-size="9.5" text-anchor="middle" fill="#8d9080" stroke="#8d9080" stroke-width="0.17">1</text>
<text x="437.3" y="829.7" font-size="10" text-anchor="middle" textLength="31.5" lengthAdjust="spacingAndGlyphs" fill="#1a1a1a" stroke="#1a1a1a" stroke-width="0.17">Vehicle</text>
<text x="488.2" y="829.7" font-size="10" text-anchor="middle" textLength="28.6" lengthAdjust="spacingAndGlyphs" fill="#1a1a1a" stroke="#1a1a1a" stroke-width="0.17">OR-21</text>
</svg>
</body></html>
